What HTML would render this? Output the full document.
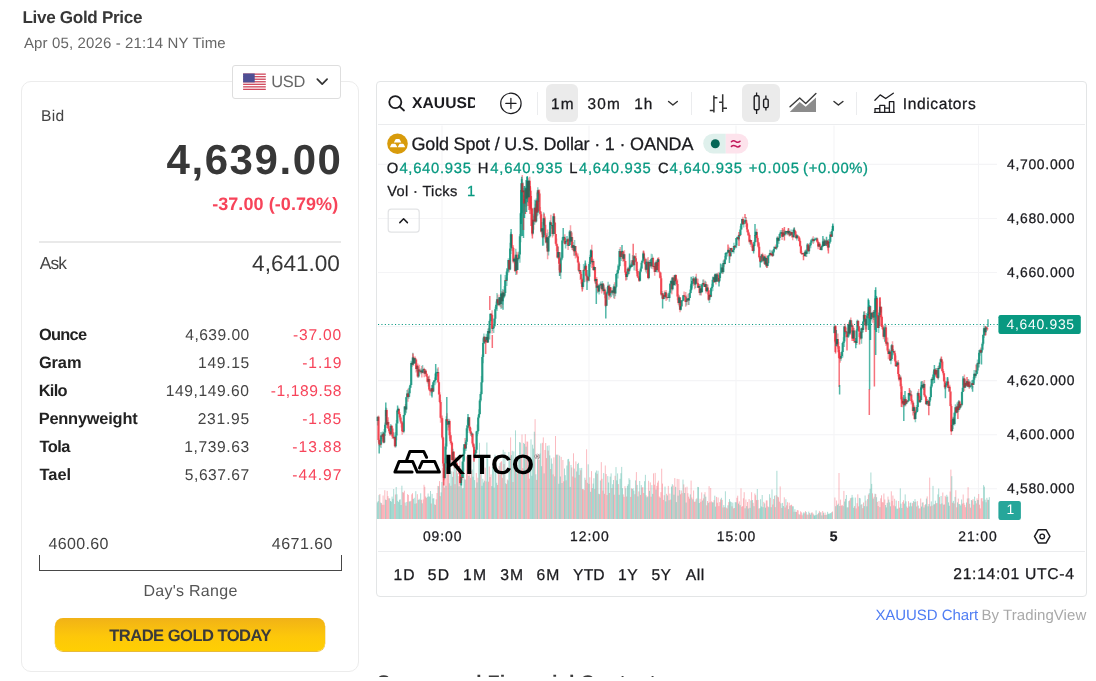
<!DOCTYPE html>
<html lang="en">
<head>
<meta charset="utf-8">
<title>Live Gold Price</title>
<style>
*{box-sizing:border-box;margin:0;padding:0}
html,body{width:1096px;height:681px;overflow:hidden;background:#fff}
body{font-family:"Liberation Sans",sans-serif;color:#333;position:relative}
#page{position:absolute;left:0;top:0;width:1096px;height:681px;overflow:hidden;background:#fff}
.t{position:absolute;white-space:pre;line-height:1;font-weight:400;font-style:normal;text-decoration:none;text-rendering:geometricPrecision}
.abs{position:absolute}
.k{-webkit-text-stroke:0.28px currentColor}
.card{position:absolute;left:21px;top:80.5px;width:338px;height:591px;border:1.5px solid #ececec;border-radius:10px;background:#fff}
.currency{position:absolute;left:231.5px;top:64.5px;width:109.5px;height:34px;border:1.5px solid #dedede;border-radius:3px;background:#fff}
.rule{position:absolute;left:39px;top:241.2px;width:302px;height:1.6px;background:#e9e9e9}
.bracket{position:absolute;left:39px;top:555px;width:302.6px;height:15.7px;border:1.8px solid #474747;border-top:none}
.trade{position:absolute;left:55px;top:617.8px;width:270.4px;height:33.6px;border-radius:8px;background:linear-gradient(#f1b217,#fdc70a 55%,#ffcf02);box-shadow:0 0.6px 0 0.3px rgba(226,170,10,.8)}
.tv{position:absolute;left:376.3px;top:80.6px;width:710.5px;height:516px;border:1.8px solid #e3e5e6;border-radius:4px;background:#fff}
.tvline{position:absolute;background:#ebecee}
.pill{position:absolute;border-radius:6px;background:#ebebeb}
.clip{position:absolute;overflow:hidden}
svg{position:absolute;left:0;top:0;overflow:visible}
</style>
</head>
<body>
<div id="page">

<header>
<span class="t" id="t-title" style="left:22.50px;top:9px;font-size:17.1px;letter-spacing:-0.321px;font-weight:700;color:#373737;">Live Gold Price</span>
<span class="t" id="t-date" style="left:23.90px;top:36px;font-size:15px;letter-spacing:0.133px;color:#666;">Apr 05, 2026 - 21:14 NY Time</span>
</header>

<section class="card" aria-label="Gold price"></section>
<section aria-label="Quote">
  <span class="t" id="t-bid" style="left:40.95px;top:109px;font-size:15.6px;letter-spacing:0.325px;color:#444;">Bid</span>
  <span class="t" id="t-bidv" style="left:166.55px;top:139px;font-size:42px;letter-spacing:1.557px;font-weight:700;color:#373737;">4,639.00</span>
  <span class="t" id="t-chg" style="left:212.15px;top:195px;font-size:18px;letter-spacing:0.071px;font-weight:700;color:#f7445a;">-37.00 (-0.79%)</span>
  <div class="rule"></div>
  <span class="t" id="t-ask" style="left:39.80px;top:255px;font-size:17.4px;letter-spacing:-0.900px;color:#444;">Ask</span>
  <span class="t" id="t-askv" style="left:252.10px;top:253px;font-size:22.6px;letter-spacing:-0.029px;color:#373737;">4,641.00</span>
  <div>
  <span class="t" id="t-rl0" style="left:38.95px;top:327px;font-size:16.4px;letter-spacing:-0.713px;font-weight:700;color:#222;">Ounce</span>
<span class="t" id="t-rl1" style="left:38.95px;top:355px;font-size:16.4px;letter-spacing:-0.100px;font-weight:700;color:#222;">Gram</span>
<span class="t" id="t-rl2" style="left:38.70px;top:383px;font-size:16.4px;letter-spacing:-0.683px;font-weight:700;color:#222;">Kilo</span>
<span class="t" id="t-rl3" style="left:38.70px;top:411px;font-size:16.4px;letter-spacing:-0.210px;font-weight:700;color:#222;">Pennyweight</span>
<span class="t" id="t-rl4" style="left:39.45px;top:439px;font-size:16.4px;letter-spacing:-0.483px;font-weight:700;color:#222;">Tola</span>
<span class="t" id="t-rl5" style="left:39.45px;top:467px;font-size:16.4px;letter-spacing:0.017px;font-weight:700;color:#222;">Tael</span>
  <span class="t" id="t-rv0" style="left:185.35px;top:328px;font-size:15.6px;letter-spacing:0.450px;color:#444;">4,639.00</span>
<span class="t" id="t-rv1" style="left:198.05px;top:356px;font-size:15.6px;letter-spacing:0.690px;color:#444;">149.15</span>
<span class="t" id="t-rv2" style="left:165.75px;top:384px;font-size:15.6px;letter-spacing:0.583px;color:#444;">149,149.60</span>
<span class="t" id="t-rv3" style="left:197.65px;top:412px;font-size:15.6px;letter-spacing:0.770px;color:#444;">231.95</span>
<span class="t" id="t-rv4" style="left:184.35px;top:440px;font-size:15.6px;letter-spacing:0.593px;color:#444;">1,739.63</span>
<span class="t" id="t-rv5" style="left:184.85px;top:468px;font-size:15.6px;letter-spacing:0.521px;color:#444;">5,637.67</span>
  <span class="t" id="t-rc0" style="left:293.05px;top:328px;font-size:15.6px;letter-spacing:0.780px;color:#f7445a;">-37.00</span>
<span class="t" id="t-rc1" style="left:302.15px;top:356px;font-size:15.6px;letter-spacing:0.950px;color:#f7445a;">-1.19</span>
<span class="t" id="t-rc2" style="left:270.65px;top:384px;font-size:15.6px;letter-spacing:0.600px;color:#f7445a;">-1,189.58</span>
<span class="t" id="t-rc3" style="left:302.15px;top:412px;font-size:15.6px;letter-spacing:0.888px;color:#f7445a;">-1.85</span>
<span class="t" id="t-rc4" style="left:292.35px;top:440px;font-size:15.6px;letter-spacing:0.970px;color:#f7445a;">-13.88</span>
<span class="t" id="t-rc5" style="left:292.35px;top:468px;font-size:15.6px;letter-spacing:0.970px;color:#f7445a;">-44.97</span>
  </div>
  <span class="t" id="t-lo" style="left:48.55px;top:537px;font-size:16px;letter-spacing:0.350px;color:#444;">4600.60</span>
  <span class="t" id="t-hi" style="left:271.85px;top:537px;font-size:16px;letter-spacing:0.467px;color:#444;">4671.60</span>
  <div class="bracket"></div>
  <span class="t" id="t-dr" style="left:143.45px;top:584px;font-size:16px;letter-spacing:0.275px;color:#555;">Day&#x27;s Range</span>
  <a class="trade"></a>
  <span class="t" id="t-btn" style="left:109.25px;top:628px;font-size:16.6px;letter-spacing:-0.553px;font-weight:700;color:#3a3a3a;">TRADE GOLD TODAY</span>
</section>

<div class="currency"></div>
<svg width="1096" height="681" viewBox="0 0 1096 681" aria-hidden="true">
  <!-- flag -->
  <g>
    <rect x="243.1" y="73.5" width="22.7" height="16.5" fill="#fff"/>
    <g fill="#d0485c">
      <rect x="243.1" y="73.5" width="22.7" height="1.3"/>
      <rect x="243.1" y="76.04" width="22.7" height="1.3"/>
      <rect x="243.1" y="78.58" width="22.7" height="1.3"/>
      <rect x="243.1" y="81.12" width="22.7" height="1.3"/>
      <rect x="243.1" y="83.66" width="22.7" height="1.3"/>
      <rect x="243.1" y="86.2" width="22.7" height="1.3"/>
      <rect x="243.1" y="88.7" width="22.7" height="1.3"/>
    </g>
    <rect x="243.1" y="73.5" width="11.6" height="8.9" fill="#4f4f94"/>
  </g>
  <path d="M317.3 79.2 L322.2 84.2 L327.1 79.2" fill="none" stroke="#333" stroke-width="1.7" stroke-linecap="round" stroke-linejoin="round"/>
</svg>
<span class="t" id="t-usd" style="left:271.15px;top:74px;font-size:16.4px;letter-spacing:-0.250px;color:#666;">USD</span>

<section class="tv" aria-label="Chart"></section>
<div class="pill" style="left:545.5px;top:84.2px;width:32px;height:37.6px"></div>
<div class="pill" style="left:742px;top:84.2px;width:37.5px;height:37.6px"></div>
<div class="tvline" style="left:378px;top:124px;width:707px;height:1.2px"></div>
<div class="tvline" style="left:378px;top:551.3px;width:707px;height:1.2px"></div>
<div class="tvline" style="left:537.4px;top:91.5px;width:1.1px;height:23px"></div>
<div class="tvline" style="left:691px;top:91.5px;width:1.1px;height:23px"></div>
<div class="tvline" style="left:856.4px;top:91.5px;width:1.1px;height:23px"></div>

<svg width="1096" height="681" viewBox="0 0 1096 681" aria-hidden="true">
  <!-- grid -->
  <g stroke="#f4f4f6" stroke-width="1.1" fill="none">
    <path d="M378 164.4H997M378 218.5H997M378 272.5H997M378 326.5H997M378 380.6H997M378 434.7H997M378 488.7H997"/>
    <path d="M442 125.5V519M589 125.5V519M736 125.5V519M834 125.5V519M978.5 125.5V519"/>
  </g>
  <!-- volume -->
  <path d="M379.9 519V494.0M381.5 519V503.1M382.3 519V504.8M383.1 519V495.5M383.9 519V504.8M384.8 519V490.2M386.4 519V500.0M387.2 519V490.9M388.0 519V496.1M388.8 519V498.3M394.6 519V504.0M395.4 519V494.5M402.7 519V492.2M403.5 519V492.6M404.4 519V490.7M406.0 519V505.7M407.6 519V494.1M408.4 519V495.0M410.9 519V500.8M411.7 519V494.4M412.5 519V493.2M416.6 519V503.3M417.4 519V494.2M419.9 519V499.8M421.5 519V499.8M423.2 519V499.5M424.0 519V484.8M424.8 519V486.8M425.6 519V496.5M426.4 519V498.0M431.3 519V503.5M434.6 519V504.4M436.2 519V499.3M437.0 519V493.0M437.9 519V485.9M439.5 519V481.1M440.3 519V496.2M442.8 519V467.9M443.6 519V478.3M444.4 519V487.6M445.2 519V467.8M446.8 519V467.6M447.7 519V472.0M448.5 519V459.9M450.9 519V485.8M453.4 519V471.7M455.0 519V484.2M456.6 519V462.2M458.3 519V476.0M459.9 519V459.3M462.4 519V488.4M465.6 519V479.6M466.5 519V456.3M467.3 519V469.5M468.1 519V462.2M469.7 519V458.7M470.5 519V477.8M471.4 519V470.9M475.4 519V487.8M476.3 519V473.0M477.9 519V477.7M480.3 519V468.5M485.2 519V467.7M486.1 519V481.4M488.5 519V481.7M489.3 519V466.5M490.1 519V477.0M491.0 519V474.4M494.2 519V487.6M497.5 519V485.0M498.3 519V469.9M499.1 519V465.9M500.8 519V461.9M501.6 519V461.2M502.4 519V477.8M504.0 519V464.0M506.5 519V484.1M507.3 519V479.5M510.6 519V437.4M513.0 519V482.0M514.7 519V468.3M517.1 519V473.6M517.9 519V468.8M521.2 519V456.2M522.0 519V434.5M522.8 519V468.1M525.3 519V434.2M526.9 519V441.5M527.7 519V441.7M528.5 519V469.9M529.4 519V478.7M535.1 519V419.2M536.7 519V479.9M538.3 519V454.1M539.2 519V460.0M542.4 519V442.8M543.3 519V437.4M544.9 519V450.0M545.7 519V443.0M546.5 519V458.1M548.2 519V450.6M550.6 519V469.0M553.1 519V474.4M553.9 519V457.4M555.5 519V436.0M558.0 519V454.7M561.2 519V456.9M562.9 519V460.0M563.7 519V481.3M566.1 519V480.3M569.4 519V461.5M571.8 519V467.5M572.7 519V476.5M573.5 519V453.3M575.1 519V477.7M575.9 519V461.4M579.2 519V474.9M580.8 519V470.3M582.5 519V489.1M583.3 519V488.9M584.1 519V490.1M585.7 519V479.9M586.6 519V449.3M587.4 519V482.8M589.8 519V477.3M591.5 519V471.1M594.7 519V488.9M597.2 519V473.8M599.6 519V494.2M601.3 519V462.1M602.1 519V478.8M602.9 519V490.6M604.5 519V493.8M605.3 519V465.5M606.2 519V474.0M607.0 519V495.1M609.4 519V493.0M611.9 519V488.0M614.3 519V494.7M615.1 519V475.8M618.4 519V484.1M623.3 519V494.4M624.1 519V496.9M625.0 519V486.2M626.6 519V496.5M630.7 519V496.9M631.5 519V488.3M634.8 519V494.2M636.4 519V472.1M638.8 519V491.4M640.5 519V494.9M642.1 519V487.5M642.9 519V487.2M643.7 519V493.0M646.2 519V495.3M648.6 519V480.8M650.3 519V482.4M651.1 519V496.7M653.5 519V473.4M654.4 519V484.7M655.2 519V472.9M656.8 519V485.9M657.6 519V482.6M658.4 519V480.7M659.3 519V496.5M660.9 519V492.1M661.7 519V468.7M662.5 519V483.6M663.4 519V499.9M664.2 519V495.2M666.6 519V493.8M668.3 519V485.9M669.9 519V493.6M670.7 519V499.6M673.2 519V485.5M674.8 519V478.1M677.2 519V478.9M678.9 519V479.1M680.5 519V494.3M681.3 519V490.5M682.1 519V493.2M683.8 519V484.4M685.4 519V487.4M687.0 519V486.7M687.9 519V493.2M688.7 519V496.7M689.5 519V498.7M691.1 519V480.6M691.9 519V497.5M693.6 519V490.5M694.4 519V501.8M695.2 519V501.6M696.8 519V498.3M700.1 519V498.8M700.9 519V501.8M701.7 519V492.4M703.4 519V498.4M705.0 519V492.2M706.7 519V505.3M707.5 519V501.0M709.1 519V486.2M709.9 519V502.2M710.7 519V488.0M711.6 519V501.4M714.0 519V500.2M716.5 519V496.9M717.3 519V502.7M718.1 519V497.5M718.9 519V506.1M719.7 519V502.1M720.5 519V499.4M722.2 519V499.9M723.0 519V507.5M724.6 519V507.2M726.3 519V507.6M727.1 519V508.4M728.7 519V502.1M732.0 519V506.3M733.6 519V508.4M734.4 519V508.0M736.9 519V497.8M737.7 519V495.7M739.3 519V501.4M741.0 519V488.3M741.8 519V506.8M742.6 519V506.1M743.4 519V498.3M744.2 519V492.2M745.9 519V499.5M747.5 519V502.0M749.1 519V499.1M751.6 519V492.2M753.2 519V502.8M754.9 519V493.5M755.7 519V495.2M756.5 519V500.1M758.1 519V499.9M758.9 519V508.5M763.8 519V501.9M766.3 519V500.4M767.1 519V500.5M767.9 519V506.4M770.4 519V497.8M772.8 519V504.5M773.6 519V499.0M775.3 519V507.1M776.1 519V495.2M777.7 519V496.6M778.5 519V497.3M779.4 519V501.7M780.2 519V486.4M781.8 519V507.9M784.3 519V497.3M785.1 519V507.5M786.7 519V505.4M787.5 519V502.2M789.2 519V502.7M790.8 519V505.0M791.6 519V504.7M794.1 519V511.8M796.5 519V511.9M797.3 519V510.0M798.2 519V510.4M799.8 519V514.7M800.6 519V511.3M801.4 519V512.4M802.2 519V515.3M804.7 519V513.3M805.5 519V511.1M807.1 519V514.6M808.0 519V514.7M809.6 519V513.1M812.0 519V512.1M812.9 519V513.3M817.8 519V514.0M819.4 519V510.9M821.0 519V512.3M822.7 519V511.0M824.3 519V514.9M825.1 519V512.6M826.8 519V514.6M832.5 519V511.5M834.9 519V497.5M836.6 519V500.5M839.0 519V473.0M840.6 519V499.6M841.5 519V505.6M842.3 519V504.9M843.9 519V490.9M847.2 519V507.4M849.6 519V500.4M850.4 519V498.2M854.5 519V506.1M856.2 519V508.4M857.0 519V503.2M857.8 519V494.3M858.6 519V506.4M861.1 519V504.8M862.7 519V508.2M863.5 519V502.5M866.0 519V500.6M868.4 519V494.6M872.5 519V493.4M874.1 519V496.8M875.8 519V494.1M877.4 519V501.9M878.2 519V506.0M879.0 519V501.0M880.7 519V498.3M881.5 519V495.3M882.3 519V502.1M883.1 519V502.4M883.9 519V493.5M884.8 519V499.5M888.0 519V496.6M891.3 519V491.3M892.1 519V500.9M892.9 519V495.5M893.7 519V505.5M894.6 519V498.8M898.6 519V501.0M899.5 519V507.7M902.7 519V502.1M903.5 519V500.3M906.8 519V506.5M907.6 519V507.9M908.5 519V501.2M912.5 519V503.1M914.2 519V502.0M916.6 519V506.5M917.4 519V501.1M919.1 519V508.4M919.9 519V508.4M920.7 519V498.5M923.2 519V502.3M924.8 519V505.2M927.2 519V496.4M929.7 519V477.6M930.5 519V506.3M932.1 519V505.7M933.8 519V504.5M936.2 519V503.2M937.0 519V503.1M939.5 519V497.1M940.3 519V504.2M942.8 519V492.5M943.6 519V504.7M945.2 519V495.8M946.0 519V497.1M950.1 519V491.5M950.9 519V469.6M952.6 519V502.7M954.2 519V503.4M955.8 519V490.2M956.7 519V507.3M958.3 519V498.6M962.4 519V503.6M963.2 519V494.5M964.0 519V502.9M964.8 519V504.8M965.6 519V507.2M967.3 519V498.5M968.1 519V487.2M969.7 519V503.8M970.5 519V507.7M972.2 519V500.5M973.0 519V499.1M973.8 519V504.7M976.3 519V503.4M977.1 519V498.3M978.7 519V494.0M979.5 519V504.7M980.3 519V508.4M981.2 519V498.4M982.0 519V498.0M982.8 519V501.3M987.7 519V499.8" stroke="#f23645" stroke-width="0.9" stroke-opacity="0.38" fill="none"/>
<path d="M377.4 519V502.4M378.2 519V501.1M379.0 519V495.1M380.7 519V502.6M385.6 519V499.6M389.7 519V498.4M390.5 519V501.0M391.3 519V501.7M392.1 519V496.6M392.9 519V498.8M393.7 519V489.0M396.2 519V487.0M397.0 519V494.3M397.8 519V500.9M398.6 519V502.1M399.5 519V499.7M400.3 519V499.4M401.1 519V505.0M401.9 519V485.7M405.2 519V502.5M406.8 519V501.9M409.3 519V501.4M410.1 519V501.5M413.3 519V499.0M414.2 519V497.8M415.0 519V503.7M415.8 519V491.2M418.3 519V500.0M419.1 519V498.8M420.7 519V493.3M422.3 519V503.3M427.2 519V496.9M428.1 519V493.5M428.9 519V496.4M429.7 519V496.7M430.5 519V491.0M432.1 519V493.9M433.0 519V498.5M433.8 519V498.2M435.4 519V504.9M438.7 519V486.2M441.1 519V492.4M441.9 519V482.0M446.0 519V485.8M449.3 519V483.3M450.1 519V470.7M451.7 519V471.4M452.6 519V476.9M454.2 519V458.3M455.8 519V462.9M457.5 519V473.3M459.1 519V486.3M460.7 519V483.1M461.6 519V469.6M463.2 519V487.9M464.0 519V454.3M464.8 519V479.3M468.9 519V475.9M472.2 519V469.5M473.0 519V476.7M473.8 519V444.8M474.6 519V480.1M477.1 519V482.4M478.7 519V456.4M479.5 519V442.8M481.2 519V461.9M482.0 519V485.8M482.8 519V478.8M483.6 519V482.5M484.4 519V480.7M486.9 519V442.5M487.7 519V458.5M491.8 519V486.1M492.6 519V466.9M493.4 519V467.9M495.0 519V454.7M495.9 519V463.6M496.7 519V482.8M500.0 519V463.1M503.2 519V449.8M504.9 519V451.9M505.7 519V483.3M508.1 519V480.4M508.9 519V452.0M509.8 519V456.8M511.4 519V455.1M512.2 519V450.8M513.8 519V451.4M515.5 519V430.4M516.3 519V472.3M518.7 519V456.3M519.6 519V442.1M520.4 519V442.6M523.6 519V442.9M524.5 519V443.9M526.1 519V446.7M530.2 519V462.5M531.0 519V439.3M531.8 519V475.8M532.6 519V444.7M533.4 519V448.6M534.3 519V431.7M535.9 519V474.3M537.5 519V459.2M540.0 519V453.5M540.8 519V443.4M541.6 519V466.2M544.1 519V473.4M547.3 519V445.8M549.0 519V445.4M549.8 519V455.4M551.4 519V458.4M552.2 519V463.7M554.7 519V476.4M556.3 519V454.7M557.1 519V454.7M558.8 519V483.8M559.6 519V455.6M560.4 519V476.5M562.0 519V483.0M564.5 519V468.5M565.3 519V475.2M566.9 519V465.5M567.8 519V459.3M568.6 519V458.9M570.2 519V486.9M571.0 519V465.0M574.3 519V468.6M576.7 519V471.5M577.6 519V464.0M578.4 519V462.8M580.0 519V468.1M581.7 519V467.9M584.9 519V477.7M588.2 519V464.3M589.0 519V483.9M590.6 519V491.8M592.3 519V488.1M593.1 519V483.6M593.9 519V478.2M595.5 519V472.5M596.4 519V470.5M598.0 519V470.7M598.8 519V493.8M600.4 519V480.5M603.7 519V473.1M607.8 519V476.1M608.6 519V482.5M610.2 519V476.6M611.1 519V473.4M612.7 519V484.2M613.5 519V480.0M616.0 519V467.1M616.8 519V480.3M617.6 519V473.4M619.2 519V494.8M620.0 519V478.8M620.9 519V473.2M621.7 519V466.9M622.5 519V488.2M625.8 519V488.3M627.4 519V485.9M628.2 519V484.2M629.0 519V478.2M629.9 519V479.8M632.3 519V489.0M633.1 519V488.2M633.9 519V490.6M635.6 519V480.4M637.2 519V484.9M638.0 519V496.4M639.7 519V481.0M641.3 519V485.1M644.6 519V481.2M645.4 519V474.8M647.0 519V497.3M647.8 519V496.4M649.5 519V490.9M651.9 519V485.1M652.7 519V493.9M656.0 519V489.6M660.1 519V497.7M665.0 519V486.6M665.8 519V501.4M667.4 519V495.4M669.1 519V500.2M671.5 519V486.6M672.3 519V484.2M674.0 519V494.7M675.6 519V486.8M676.4 519V502.1M678.1 519V495.7M679.7 519V490.1M683.0 519V479.6M684.6 519V493.0M686.2 519V502.5M690.3 519V494.4M692.8 519V499.3M696.0 519V499.3M697.7 519V486.9M698.5 519V487.1M699.3 519V503.0M702.6 519V500.5M704.2 519V494.4M705.8 519V496.7M708.3 519V502.8M712.4 519V502.3M713.2 519V502.4M714.8 519V495.7M715.6 519V506.6M721.4 519V497.8M723.8 519V505.1M725.4 519V491.3M727.9 519V505.3M729.5 519V499.1M730.3 519V501.4M731.2 519V502.1M732.8 519V502.6M735.2 519V502.2M736.1 519V502.3M738.5 519V503.6M740.1 519V505.2M745.1 519V508.3M746.7 519V506.1M748.3 519V508.5M750.0 519V507.9M750.8 519V500.5M752.4 519V500.0M754.0 519V506.2M757.3 519V489.0M759.8 519V508.2M760.6 519V499.2M761.4 519V506.5M762.2 519V495.0M763.0 519V507.2M764.7 519V503.4M765.5 519V507.7M768.7 519V507.2M769.6 519V494.2M771.2 519V507.2M772.0 519V489.4M774.5 519V495.7M776.9 519V470.8M781.0 519V503.3M782.6 519V502.9M783.4 519V506.0M785.9 519V499.2M788.4 519V509.1M790.0 519V505.9M792.4 519V506.3M793.3 519V506.3M794.9 519V509.2M795.7 519V511.9M799.0 519V514.2M803.1 519V513.4M803.9 519V512.1M806.3 519V512.1M808.8 519V511.6M810.4 519V514.7M811.2 519V513.1M813.7 519V514.5M814.5 519V515.6M815.3 519V515.2M816.1 519V510.4M816.9 519V514.9M818.6 519V512.8M820.2 519V512.3M821.8 519V515.4M823.5 519V512.7M825.9 519V515.0M827.6 519V511.8M828.4 519V513.7M829.2 519V514.1M830.0 519V513.1M830.8 519V513.2M831.7 519V512.2M835.7 519V506.2M837.4 519V505.1M838.2 519V503.7M839.8 519V506.0M843.1 519V506.1M844.7 519V501.5M845.5 519V498.9M846.4 519V495.0M848.0 519V507.3M848.8 519V501.1M851.3 519V497.7M852.1 519V494.9M852.9 519V497.5M853.7 519V507.8M855.3 519V497.6M859.4 519V497.9M860.2 519V498.3M861.9 519V504.1M864.3 519V506.1M865.1 519V495.5M866.8 519V506.3M867.6 519V499.1M869.2 519V493.2M870.1 519V488.8M870.9 519V472.5M871.7 519V483.9M873.3 519V498.6M875.0 519V493.7M876.6 519V497.2M879.9 519V507.1M885.6 519V505.0M886.4 519V507.4M887.2 519V502.8M888.8 519V499.6M889.7 519V502.4M890.5 519V506.3M895.4 519V506.3M896.2 519V500.5M897.0 519V508.7M897.8 519V508.7M900.3 519V488.4M901.1 519V503.7M901.9 519V508.0M904.4 519V503.6M905.2 519V494.4M906.0 519V501.4M909.3 519V506.4M910.1 519V502.8M910.9 519V502.6M911.7 519V506.3M913.4 519V501.0M915.0 519V499.1M915.8 519V501.7M918.3 519V505.6M921.5 519V506.5M922.3 519V502.6M924.0 519V507.5M925.6 519V504.2M926.4 519V498.6M928.1 519V506.3M928.9 519V504.0M931.3 519V501.4M933.0 519V485.9M934.6 519V504.2M935.4 519V500.7M937.9 519V494.4M938.7 519V488.5M941.1 519V496.0M941.9 519V503.5M944.4 519V504.5M946.8 519V494.8M947.7 519V496.6M948.5 519V502.4M949.3 519V505.8M951.8 519V476.2M953.4 519V500.9M955.0 519V496.9M957.5 519V502.4M959.1 519V504.0M959.9 519V504.2M960.7 519V505.5M961.6 519V499.5M966.5 519V502.5M968.9 519V498.3M971.4 519V500.0M974.6 519V496.7M975.4 519V500.9M977.9 519V500.0M983.6 519V485.1M984.4 519V486.7M985.2 519V499.7M986.1 519V502.3M986.9 519V497.8M988.5 519V499.9M989.3 519V497.2" stroke="#089981" stroke-width="0.9" stroke-opacity="0.38" fill="none"/>

  <!-- logo -->
  <g fill="none" stroke="#000" stroke-width="3" stroke-linejoin="round" stroke-linecap="round">
    <path d="M406.7 460 L409.9 451.4 H423.7 L426.6 457.3"/>
    <path d="M412.1 472.1 H394.9 L399.1 461.5 H412.7 L417.3 472.1 H439.4 L434.7 461.5 H422.3 L419.5 467.9"/>
  </g>
  <!-- last price line -->
  <path d="M378 324.5H998" stroke="#089981" stroke-width="1.1" stroke-dasharray="1.1 2.3" fill="none"/>
  <!-- candles -->
  <path d="M378.5 415.5V442.4M379.3 438.4V446.0M380.2 444.2V446.7M381.8 435.5V438.9M383.4 432.0V443.2M386.7 408.2V428.0M388.3 417.3V429.1M389.1 426.2V433.0M390.0 427.8V436.0M391.6 425.2V430.3M392.4 426.2V438.9M393.2 431.9V438.9M394.9 437.0V447.4M398.9 407.7V414.5M399.8 412.1V419.4M400.6 415.8V423.9M401.4 420.9V427.5M402.2 421.6V434.7M403.0 430.6V432.1M405.5 404.1V412.0M407.9 388.7V401.8M412.0 362.0V367.1M413.6 356.3V365.8M415.3 356.4V360.6M416.1 359.4V372.5M417.7 363.5V377.7M419.4 364.8V370.7M420.2 370.1V373.0M421.8 366.0V377.5M424.3 367.8V377.2M425.9 369.6V375.9M426.7 372.9V376.7M427.5 376.1V383.6M429.2 375.4V390.7M430.0 387.7V395.6M430.8 390.2V393.0M432.4 384.7V393.3M438.2 367.2V382.9M439.0 381.7V394.6M439.8 392.2V403.2M440.6 400.1V422.7M441.4 415.8V422.1M442.2 415.6V439.4M443.1 436.7V466.2M443.9 457.7V480.2M447.1 413.3V421.2M448.0 421.2V430.6M449.6 419.4V438.4M450.4 432.3V444.3M451.2 435.2V445.2M452.0 442.1V464.5M453.7 450.9V463.1M454.5 460.0V468.5M456.1 457.6V468.1M456.9 462.8V469.4M458.6 465.5V474.2M460.2 468.2V484.4M461.9 477.1V480.3M465.1 438.1V449.3M469.2 417.2V429.8M470.0 426.7V432.8M470.8 428.1V436.0M472.5 433.1V445.1M473.3 442.8V448.2M474.1 444.3V460.2M484.7 336.8V344.0M487.2 335.4V343.1M488.8 327.7V339.6M491.3 313.0V315.1M492.1 310.3V333.5M497.8 294.5V306.2M498.6 298.2V305.7M500.3 294.8V307.3M501.9 290.9V308.0M503.5 289.9V298.2M506.0 277.6V280.7M509.2 260.1V272.2M511.7 234.2V250.7M512.5 246.8V250.9M513.3 245.0V263.3M515.0 256.7V272.0M516.6 251.8V272.9M518.2 252.2V259.6M522.3 175.1V196.4M523.9 190.6V211.7M526.4 180.1V206.6M528.0 177.8V200.2M529.7 176.8V191.7M530.5 187.6V210.2M531.3 202.1V210.7M532.1 207.7V235.5M533.7 215.8V229.7M535.4 203.7V222.6M537.0 192.4V216.5M538.6 189.2V196.5M539.5 189.5V212.9M540.3 206.9V218.2M541.1 212.1V232.5M542.7 228.2V238.4M544.4 218.3V224.7M545.2 216.6V239.2M546.0 235.2V243.4M547.6 229.4V259.3M550.9 214.8V225.0M552.5 225.0V237.5M554.2 213.6V226.4M555.0 222.0V233.9M555.8 233.9V244.6M556.6 238.6V251.1M557.4 244.3V258.2M559.1 252.0V270.2M559.9 257.2V275.8M564.8 234.3V244.5M568.1 237.7V250.0M570.5 225.3V242.3M572.1 232.5V250.1M573.8 245.2V255.8M575.4 246.0V258.5M576.2 250.9V256.4M577.0 254.1V258.1M577.9 253.6V262.6M578.7 261.1V272.1M580.3 270.0V279.9M581.1 271.7V283.7M582.0 277.7V289.2M584.4 266.7V270.6M586.0 263.5V281.7M586.9 273.6V279.7M587.7 276.0V282.6M591.8 244.7V268.0M593.4 258.8V270.8M595.0 266.9V283.4M596.7 277.0V287.7M598.3 284.3V292.3M601.6 283.7V293.4M603.2 283.0V292.3M604.8 287.4V298.2M605.6 291.3V307.2M608.9 284.5V299.7M610.5 287.3V298.3M613.0 288.3V295.4M614.6 282.3V299.0M620.3 247.1V259.1M622.8 250.7V261.4M624.4 250.3V266.2M625.3 260.9V275.0M626.1 271.0V277.0M628.5 266.8V275.2M631.0 260.3V267.4M633.4 256.3V265.2M635.1 256.3V258.2M635.9 253.0V262.5M636.7 261.8V273.5M637.5 269.0V277.5M638.3 271.0V278.3M639.1 272.5V282.0M644.0 251.6V259.4M644.9 257.4V264.3M645.7 259.1V271.7M647.3 258.0V267.3M648.1 257.1V279.2M650.6 259.4V267.5M653.0 256.7V269.2M654.7 263.5V275.7M656.3 260.1V270.7M658.7 257.3V271.8M659.6 271.2V277.4M660.4 272.4V278.2M661.2 275.7V295.8M662.8 292.9V299.0M664.5 290.4V296.7M666.1 290.1V301.1M666.9 296.8V300.0M668.6 294.7V298.0M671.8 277.4V294.2M673.5 275.2V286.1M675.9 274.5V284.2M676.7 278.2V284.7M677.5 279.3V300.2M678.4 294.1V304.7M680.0 297.0V312.2M684.1 291.6V295.8M684.9 293.4V301.6M685.7 292.1V306.8M688.2 293.8V305.1M693.9 277.2V286.0M694.7 281.3V289.2M696.3 273.8V282.8M697.1 281.6V283.9M698.0 278.7V287.7M699.6 284.3V295.3M701.2 287.9V295.6M703.7 279.6V286.0M704.5 281.5V286.9M706.1 281.8V293.4M707.8 284.4V294.6M708.6 290.3V300.9M710.2 293.9V297.2M714.3 275.2V282.9M715.9 273.8V284.6M717.6 273.0V276.2M718.4 272.3V281.6M722.5 264.6V273.9M724.1 259.5V266.8M729.0 246.7V253.3M729.8 252.0V259.6M731.5 247.7V251.2M732.3 249.9V251.9M734.7 245.2V248.6M738.0 237.2V239.2M739.6 234.7V236.1M742.9 216.7V224.6M746.2 217.0V226.9M747.0 222.4V232.0M747.8 229.6V235.7M748.6 231.6V235.9M749.4 233.9V243.4M751.1 240.0V247.0M751.9 242.1V247.7M752.7 242.8V250.9M756.8 228.7V237.9M757.6 236.3V245.4M758.4 241.8V248.3M759.2 243.5V258.4M760.1 256.0V261.8M762.5 252.8V260.9M763.3 255.3V262.3M765.0 254.2V264.4M766.6 255.5V266.9M770.7 252.6V255.7M772.3 250.6V257.0M775.6 244.6V248.5M778.0 236.5V242.4M782.1 231.9V239.9M783.7 229.3V235.6M786.2 231.3V233.4M787.8 229.7V234.7M789.5 230.6V236.8M791.9 231.9V237.5M792.7 234.8V240.2M794.4 227.5V231.4M795.2 230.3V237.8M796.0 231.7V238.2M797.6 235.4V238.8M798.5 236.5V237.7M799.3 236.6V241.8M800.1 239.5V246.6M800.9 245.5V253.8M801.7 250.8V254.9M803.4 252.6V256.4M804.2 253.0V256.6M805.8 249.4V257.1M808.3 243.5V251.5M813.2 236.2V244.1M817.2 237.4V242.9M818.1 240.4V249.3M819.7 242.3V247.1M820.5 246.0V249.9M823.8 238.5V246.0M825.4 240.4V244.9M826.2 241.4V246.0M827.9 239.6V250.6M831.1 231.7V236.7M835.3 325.8V343.0M836.1 341.6V345.6M837.8 333.5V348.8M838.6 341.9V357.7M839.4 346.7V358.3M840.2 354.2V362.7M845.1 323.7V337.6M846.8 327.4V336.7M849.2 321.8V334.2M850.8 317.5V332.1M852.5 323.6V338.5M854.1 327.7V343.0M855.7 340.4V343.6M858.2 320.8V328.2M859.0 326.2V336.9M859.8 328.8V333.3M860.6 331.3V339.7M862.3 327.5V332.7M864.7 311.1V324.3M865.5 314.9V329.6M869.6 306.2V320.4M870.4 316.4V321.6M872.1 312.8V318.1M872.9 311.5V322.7M877.0 296.9V318.6M877.8 316.0V327.9M881.1 306.7V318.3M881.9 315.7V326.9M882.7 325.0V329.9M883.5 325.3V339.3M886.0 324.9V346.0M887.6 337.4V351.9M888.4 349.3V359.2M890.1 350.1V361.0M892.5 341.3V351.1M894.1 351.3V353.2M895.0 350.6V362.0M895.8 355.6V366.3M898.2 359.9V376.4M899.0 373.9V381.3M900.7 375.7V388.8M901.5 383.8V400.5M902.3 396.8V407.2M903.9 398.7V406.4M905.6 396.7V406.2M907.2 400.2V402.6M909.7 389.6V394.9M911.3 391.1V404.4M912.1 399.2V403.6M912.9 400.2V415.4M914.6 405.6V420.0M918.7 388.9V398.1M919.5 394.4V403.0M922.7 380.9V388.4M924.4 379.9V397.3M925.2 394.2V397.0M926.0 396.5V404.2M927.6 399.3V403.0M928.5 399.9V405.7M932.5 376.9V380.8M935.0 368.9V374.4M936.6 368.1V378.0M937.4 375.5V378.3M939.1 365.1V368.2M941.5 359.2V364.5M942.3 359.5V372.0M943.2 369.0V375.2M944.0 373.2V381.7M944.8 377.2V389.3M948.1 378.5V388.2M949.7 384.7V391.5M950.5 391.5V406.4M951.3 403.9V435.0M953.8 417.2V424.9M956.2 405.7V413.4M957.9 406.0V410.8M959.5 400.4V409.8M961.1 403.2V406.8M964.4 374.6V391.3M966.0 382.2V385.9M967.7 379.2V387.0M969.3 380.4V389.0M972.6 383.2V387.7M975.0 373.7V377.7M978.3 361.9V367.5M980.7 347.4V353.4M984.8 327.9V336.0M986.5 327.1V330.2M987.3 326.5V330.7" stroke="#f23645" stroke-width="1.5" stroke-opacity="0.45" fill="none"/>
<path d="M377.7 416.7V425.6M381.0 432.0V447.9M382.6 431.4V441.2M384.2 428.9V443.2M385.1 422.5V435.9M385.9 407.6V424.8M387.5 420.2V425.7M390.8 424.0V434.8M394.0 432.4V439.5M395.7 432.0V447.4M396.5 419.9V440.2M397.3 409.3V423.4M398.1 407.7V411.1M403.8 415.1V433.3M404.7 405.9V416.3M406.3 396.7V413.2M407.1 389.9V397.3M408.7 391.4V398.8M409.6 385.9V396.7M410.4 383.4V388.3M411.2 360.8V385.1M412.8 352.7V365.3M414.5 358.2V363.4M416.9 365.2V371.3M418.6 367.2V377.7M421.0 368.4V374.2M422.6 365.1V373.3M423.5 368.4V370.5M425.1 369.6V374.2M428.4 376.6V386.6M431.6 388.3V396.0M433.3 381.6V392.1M434.1 380.4V382.9M434.9 377.5V385.3M435.7 371.8V383.5M436.5 372.8V373.6M437.3 368.4V376.4M444.7 462.7V478.8M445.5 443.5V467.9M446.3 416.3V449.5M448.8 418.7V427.6M452.9 448.7V460.7M455.3 457.6V467.8M457.8 466.3V470.1M459.4 465.9V471.9M461.0 474.0V485.2M462.7 461.4V478.0M463.5 447.6V462.1M464.3 444.3V460.0M465.9 440.1V450.9M466.8 425.1V444.8M467.6 419.6V432.9M468.4 417.2V427.3M471.7 432.1V437.0M474.9 452.1V458.6M475.7 449.8V458.3M476.6 430.7V453.0M477.4 424.6V436.2M478.2 415.2V434.0M479.0 409.2V418.3M479.8 399.1V414.7M480.6 391.7V402.2M481.5 375.9V394.8M482.3 354.6V383.0M483.1 338.3V363.3M483.9 333.6V343.8M485.5 338.6V343.3M486.4 333.8V341.7M488.0 328.5V342.4M489.6 319.4V339.6M490.4 313.8V322.6M492.9 325.1V331.1M493.7 324.7V333.1M494.5 317.9V326.3M495.3 306.8V323.5M496.2 301.4V310.0M497.0 292.9V311.1M499.4 297.2V305.7M501.1 293.4V309.0M502.7 289.1V304.7M504.3 286.1V298.2M505.2 275.0V295.6M506.8 268.0V286.1M507.6 269.2V275.2M508.4 258.2V272.9M510.1 242.7V270.3M510.9 232.3V254.1M514.1 257.7V261.4M515.8 248.8V275.0M517.4 257.2V269.9M519.0 251.6V260.6M519.9 234.1V262.7M520.7 212.3V242.2M521.5 183.2V216.3M523.1 182.5V192.3M524.8 197.0V206.7M525.6 187.2V207.1M527.2 176.8V202.6M528.8 179.8V203.2M532.9 213.8V234.4M534.6 199.7V224.7M536.2 198.4V222.6M537.8 187.2V215.5M541.9 222.1V234.6M543.6 212.2V245.4M546.8 233.2V248.3M548.5 237.6V255.4M549.3 232.1V237.6M550.1 220.4V236.8M551.7 223.1V228.7M553.4 213.6V235.7M558.3 247.0V259.1M560.7 252.2V279.0M561.5 255.4V259.5M562.3 237.2V260.2M563.2 236.5V242.8M564.0 236.5V239.9M565.6 238.5V248.4M566.4 236.2V241.1M567.2 236.1V245.9M568.9 242.8V246.0M569.7 230.0V245.1M571.3 230.9V247.7M573.0 242.1V250.0M574.6 239.9V255.8M579.5 264.0V273.6M582.8 281.6V289.2M583.6 264.0V286.8M585.2 262.8V269.6M588.5 276.8V281.1M589.3 261.8V281.2M590.1 254.7V266.8M590.9 249.7V261.2M592.6 259.5V265.1M594.2 266.2V270.8M595.8 278.4V284.1M597.5 283.6V293.3M599.1 284.8V294.4M599.9 283.5V288.3M600.7 281.6V287.7M602.4 280.9V290.7M604.0 285.3V295.1M606.5 290.4V305.8M607.3 286.9V294.5M608.1 281.7V293.8M609.7 284.6V296.9M611.4 290.4V296.9M612.2 290.4V294.5M613.8 284.3V298.2M615.4 286.8V296.3M616.3 273.2V288.2M617.1 270.5V274.5M617.9 264.5V278.6M618.7 265.3V271.2M619.5 249.1V267.3M621.2 251.2V261.1M622.0 250.7V254.5M623.6 252.3V261.4M626.9 272.0V279.7M627.7 267.4V276.6M629.3 268.2V273.9M630.2 263.6V268.8M631.8 262.3V266.7M632.6 254.9V266.3M634.2 255.0V270.4M640.0 270.2V281.4M640.8 266.5V272.2M641.6 260.7V269.1M642.4 259.5V262.7M643.2 251.6V261.4M646.5 259.2V273.6M648.9 260.7V279.2M649.8 260.1V262.6M651.4 253.7V268.8M652.2 254.2V258.8M653.8 266.0V267.3M655.5 261.4V271.9M657.1 260.9V272.6M657.9 258.5V262.8M662.0 291.1V298.3M663.7 294.7V299.6M665.3 292.0V298.6M667.7 293.5V297.5M669.4 291.0V301.7M670.2 283.2V293.5M671.0 279.8V284.4M672.6 277.6V290.6M674.3 280.4V284.9M675.1 274.5V285.9M679.2 295.2V306.5M680.8 301.5V310.4M681.6 300.0V306.9M682.4 300.5V300.6M683.3 295.2V301.1M686.5 295.5V305.6M687.3 298.6V300.9M689.0 298.1V305.1M689.8 292.4V298.1M690.6 286.1V293.6M691.4 283.1V290.8M692.2 281.0V287.8M693.1 276.0V283.4M695.5 276.7V288.0M698.8 284.3V287.7M700.4 283.9V295.3M702.0 283.8V292.2M702.9 279.6V286.6M705.3 280.7V286.9M707.0 284.4V291.8M709.4 293.4V303.0M711.0 287.8V297.2M711.9 283.7V291.4M712.7 276.6V290.9M713.5 276.7V282.7M715.1 273.3V282.4M716.8 273.0V282.1M719.2 278.0V283.0M720.0 271.7V280.8M720.8 272.3V273.5M721.7 264.6V273.7M723.3 260.4V273.4M724.9 256.1V264.6M725.7 252.1V260.5M726.6 253.0V254.3M727.4 251.4V256.5M728.2 248.8V252.3M730.6 248.1V256.2M733.1 248.8V253.6M733.9 242.7V253.4M735.5 245.1V248.6M736.4 237.9V248.0M737.2 236.4V239.2M738.8 234.4V240.8M740.4 226.0V236.3M741.3 223.2V229.8M742.1 218.7V224.9M743.7 219.1V227.5M744.5 219.4V223.6M745.4 217.0V223.9M750.3 239.2V245.0M753.5 245.3V251.7M754.3 240.4V246.5M755.2 231.7V242.4M756.0 230.7V238.2M760.9 260.2V262.6M761.7 254.0V262.6M764.1 255.7V263.9M765.8 257.1V266.8M767.4 263.3V267.7M768.2 255.4V265.7M769.0 254.6V256.6M769.9 249.8V256.6M771.5 250.6V255.7M773.1 250.1V256.6M773.9 246.5V252.9M774.8 246.2V249.3M776.4 245.9V250.1M777.2 236.5V247.9M778.8 238.1V244.0M779.7 233.7V240.5M780.5 230.2V235.7M781.3 229.9V233.7M782.9 230.1V236.7M784.6 233.4V235.6M785.4 230.6V234.1M787.0 230.9V235.3M788.7 228.6V234.7M790.3 232.9V235.6M791.1 229.6V234.4M793.6 228.6V237.2M796.8 233.9V240.5M802.5 253.0V254.5M805.0 250.2V256.6M806.6 249.6V257.1M807.4 243.1V253.4M809.1 245.8V254.1M809.9 243.0V246.2M810.7 239.5V248.2M811.5 240.6V243.3M812.3 237.7V241.0M814.0 238.7V242.6M814.8 237.5V240.6M815.6 238.4V239.8M816.4 237.4V241.0M818.9 242.3V247.1M821.3 245.1V250.6M822.1 244.6V250.3M823.0 241.5V247.1M824.6 238.9V246.0M827.1 240.0V245.4M828.7 239.1V247.6M829.5 241.3V243.1M830.3 231.7V243.8M832.0 229.0V236.7M832.8 224.6V231.5M834.5 324.4V333.7M837.0 339.0V347.0M841.0 355.9V360.7M841.9 350.7V358.0M842.7 342.2V357.5M843.5 337.3V342.9M844.3 325.7V346.9M845.9 331.5V334.2M847.6 334.3V336.7M848.4 323.9V337.7M850.0 319.6V334.9M851.7 320.2V327.3M853.3 327.7V338.5M854.9 341.0V342.4M856.6 329.1V344.9M857.4 319.4V331.2M861.5 327.5V343.8M863.1 321.5V332.6M863.9 314.5V324.2M866.4 313.1V329.6M867.2 314.3V323.7M868.0 312.1V315.6M868.8 301.5V318.0M871.3 312.8V320.3M873.7 310.1V320.1M874.5 312.0V313.4M875.4 295.6V317.3M876.2 298.2V298.9M878.6 315.0V333.1M879.4 309.8V316.9M880.3 301.5V312.4M884.3 325.9V337.3M885.2 323.6V329.8M886.8 341.3V344.7M889.2 348.8V354.0M890.9 355.1V364.2M891.7 343.9V360.9M893.3 349.1V355.2M896.6 363.2V366.9M897.4 361.2V365.1M899.9 375.1V380.0M903.1 397.4V404.7M904.8 398.5V406.3M906.4 399.6V404.4M908.0 400.2V402.6M908.8 393.0V401.4M910.5 389.9V396.6M913.7 402.8V413.1M915.4 409.6V422.2M916.2 411.9V414.5M917.0 404.9V411.9M917.8 391.5V411.3M920.3 398.9V403.0M921.1 386.6V400.0M921.9 380.9V389.1M923.6 382.5V389.9M926.8 399.3V405.2M929.3 397.3V405.7M930.1 396.9V401.9M930.9 384.6V397.4M931.7 377.4V388.1M933.4 371.4V383.8M934.2 369.5V378.5M935.8 368.1V375.9M938.3 366.1V379.8M939.9 362.6V369.2M940.7 357.7V366.6M945.6 383.1V388.8M946.4 381.2V386.6M947.2 377.5V385.2M948.9 386.7V391.7M952.1 424.6V431.5M953.0 416.7V429.0M954.6 411.7V425.4M955.4 404.2V415.7M957.1 402.5V412.9M958.7 399.9V411.8M960.3 404.2V409.3M962.0 391.4V406.3M962.8 384.9V391.9M963.6 378.5V388.2M965.2 379.3V387.9M966.9 380.7V386.4M968.5 378.9V387.5M970.1 384.5V387.5M970.9 381.6V386.4M971.8 380.3V389.2M973.4 377.0V384.9M974.2 369.9V383.6M975.8 370.1V377.7M976.7 370.4V374.4M977.5 359.5V373.2M979.1 350.0V367.5M979.9 349.3V355.7M981.6 348.4V352.9M982.4 342.3V350.7M983.2 334.2V345.6M984.0 325.5V337.9M985.6 326.1V335.1" stroke="#089981" stroke-width="1.5" stroke-opacity="0.45" fill="none"/>
<path d="M413.0 353.5V360.0M443.8 470.0V485.5M474.0 450.0V461.7M485.7 340.0V354.0M492.3 335.0V348.0M489.8 296.0V310.0M516.8 262.0V274.5M532.4 222.0V238.4M544.2 213.5V226.0M554.0 213.5V225.0M582.3 280.0V291.4M625.9 272.0V280.5M633.2 243.8V262.0M643.5 250.5V258.0M647.9 268.0V277.5M657.9 257.7V266.0M675.0 276.0V282.0M728.0 244.5V252.0M739.0 232.0V246.0M745.0 214.0V218.0M766.8 262.0V268.0M782.5 228.0V236.0M784.4 227.0V240.5M788.4 228.0V233.0M803.5 256.0V260.2M828.4 242.0V253.6M835.6 325.5V353.4M839.2 350.0V387.0M847.0 335.0V350.5M849.2 322.5V330.0M852.2 330.0V341.0M859.5 333.0V344.6M866.0 320.0V332.0M869.3 389.0V415.0M874.4 310.0V386.6M880.0 297.0V312.0M901.4 392.0V407.0M909.4 388.0V396.0M928.8 402.0V415.2M938.0 370.0V378.5M941.4 356.5V362.0M951.3 420.0V432.0M957.9 404.0V419.0M967.0 377.0V384.0M976.2 364.5V372.0M985.6 326.0V335.5" stroke="#f23645" stroke-width="1.5" stroke-opacity="0.7" fill="none"/>
<path d="M385.8 402.5V416.0M397.6 405.5V412.0M432.0 385.0V397.5M435.7 364.0V380.0M379.2 440.0V453.6M446.8 397.0V425.0M461.4 470.0V485.5M468.0 414.0V425.0M500.8 274.5V296.0M503.0 296.0V309.8M511.1 229.0V245.0M521.7 176.7V200.0M523.5 195.0V238.0M527.3 176.0V195.0M538.7 192.0V202.0M542.7 232.0V245.8M547.5 242.0V251.6M559.6 265.0V276.0M563.2 228.0V238.0M585.3 260.5V270.0M587.0 270.0V290.0M590.9 249.5V258.0M596.3 282.0V304.0M605.8 300.0V318.6M622.0 245.0V255.0M629.5 253.5V270.0M662.6 295.0V308.4M680.2 300.0V309.8M691.2 276.8V290.0M695.6 276.8V284.0M719.0 280.0V286.5M720.6 263.5V272.0M729.4 250.0V263.0M753.6 245.0V253.5M755.0 224.0V236.0M760.2 256.0V267.5M794.2 227.6V233.0M822.9 236.0V246.0M826.5 236.7V246.0M832.8 223.5V230.0M839.6 385.0V394.6M855.8 338.0V348.3M863.9 311.5V322.0M868.3 298.4V315.0M869.6 305.0V389.5M875.7 287.3V355.0M884.9 330.0V341.7M890.3 352.0V360.8M903.8 395.0V421.0M905.0 391.0V402.0M914.9 411.0V419.0M921.2 381.4V390.0M934.4 365.0V383.0M945.4 385.0V398.3M947.6 377.0V386.0M963.0 376.3V385.0M972.6 386.0V391.7M981.5 350.0V364.5M988.0 319.3V327.0" stroke="#089981" stroke-width="1.5" stroke-opacity="0.7" fill="none"/>
<path d="M523.4 196.0V230.0M525.3 190.0V214.0M528.2 181.0V206.0M529.2 183.0V210.0M530.2 186.0V214.0M531.2 196.0V226.0M835.3 326.0V352.0M879.8 298.0V326.0" stroke="#f23645" stroke-width="1.7" stroke-opacity="0.8" fill="none"/>
<path d="M520.9 190.0V224.0M521.7 179.0V216.0M522.5 188.0V236.0M524.4 186.0V218.0M526.4 180.0V212.0M527.2 177.0V202.0M836.2 330.0V346.0M868.6 300.0V330.0M870.4 306.0V340.0M875.3 290.0V330.0M876.3 296.0V332.0" stroke="#089981" stroke-width="1.7" stroke-opacity="0.8" fill="none"/>
<path d="M377.7 416.7V421.0M381.0 435.5V444.4M382.6 433.8V436.5M384.2 432.4V442.6M385.9 409.9V424.8M387.5 422.0V424.5M390.8 425.8V434.2M394.0 437.0V437.8M395.7 435.5V446.3M397.3 410.5V423.4M403.8 415.1V431.5M407.1 393.4V397.3M408.7 393.2V397.0M410.4 385.1V387.7M416.9 365.8V368.9M418.6 369.6V376.5M423.5 369.0V369.9M425.1 370.8V373.6M428.4 379.0V381.8M431.6 388.3V391.2M433.3 382.2V391.5M434.9 379.9V380.7M436.5 372.8V373.6M444.7 463.4V478.1M446.3 419.3V446.5M452.9 451.7V460.0M457.8 466.3V467.8M459.4 468.9V469.7M461.0 477.1V482.9M462.7 461.4V478.0M464.3 444.3V453.8M465.9 441.7V448.6M467.6 425.8V428.2M475.7 449.8V453.6M477.4 430.9V431.7M479.0 413.9V417.5M480.6 394.0V400.6M482.3 356.9V382.2M483.9 336.8V343.1M485.5 340.1V341.7M490.4 313.8V321.0M493.7 326.3V328.3M495.3 309.2V318.7M497.0 299.3V304.7M505.2 280.3V293.0M506.8 271.6V280.7M508.4 260.1V269.2M510.1 248.4V269.4M519.9 236.2V254.6M521.5 183.2V213.3M523.1 190.6V192.3M524.8 199.0V203.6M532.9 219.8V233.4M534.6 207.7V221.6M536.2 200.5V221.5M537.8 190.2V212.5M549.3 235.9V237.6M560.7 258.7V272.5M562.3 240.4V257.8M564.0 237.3V238.1M565.6 240.9V243.7M567.2 239.3V241.1M568.9 245.1V245.9M583.6 269.9V282.3M585.2 265.7V269.6M588.5 276.8V280.4M590.1 256.9V263.9M599.9 284.9V285.7M606.5 292.5V305.8M608.1 285.8V292.4M609.7 287.3V295.6M611.4 292.5V293.3M616.3 273.9V286.8M617.9 269.8V273.2M619.5 251.1V265.9M621.2 251.8V257.1M627.7 268.8V274.0M629.3 268.2V271.2M632.6 260.2V264.3M634.2 256.3V265.2M640.8 268.4V271.5M642.4 260.8V262.7M648.9 262.0V277.9M652.2 258.0V258.8M653.8 266.0V266.8M655.5 262.6V271.9M657.1 262.1V270.1M662.0 293.5V294.6M663.7 295.3V299.0M665.3 292.6V296.7M670.2 283.8V292.8M675.1 275.1V281.0M681.6 300.6V306.3M683.3 295.2V300.5M686.5 300.3V302.1M689.8 293.0V298.1M691.4 284.3V289.6M693.1 278.4V281.0M702.9 283.0V284.4M709.4 295.0V299.8M711.0 288.3V296.7M712.7 279.7V286.8M719.2 278.0V281.6M720.8 272.3V273.1M725.7 253.0V259.6M727.4 252.3V253.1M730.6 248.1V256.2M733.9 246.1V250.1M735.5 245.5V247.3M737.2 237.2V238.0M738.8 235.3V239.2M740.4 229.4V235.1M742.1 219.1V223.7M743.7 222.4V224.2M745.4 220.2V221.0M750.3 240.0V241.8M753.5 246.1V250.9M755.2 234.9V242.0M761.7 254.4V261.4M768.2 255.8V263.3M769.9 253.0V255.0M771.5 253.8V255.0M773.1 251.7V255.8M774.8 247.0V248.9M776.4 247.1V248.5M779.7 234.1V238.1M781.3 232.3V233.1M782.9 232.4V236.7M784.6 234.1V235.2M791.1 231.9V234.4M802.5 253.0V253.8M807.4 244.6V250.4M809.1 246.2V251.2M810.7 242.5V245.2M812.3 239.2V240.6M814.0 239.5V241.1M815.6 238.7V239.5M818.9 243.8V246.4M822.1 246.0V247.3M827.1 240.7V244.3M828.7 242.0V247.6M830.3 234.6V241.7M832.0 231.1V236.7M834.5 326.4V333.0M841.0 355.9V358.6M842.7 342.9V352.1M844.3 326.4V341.4M845.9 331.5V332.3M847.6 336.4V337.2M857.4 320.8V330.5M863.9 315.1V321.5M867.2 315.6V318.4M868.8 306.8V314.1M873.7 312.1V317.4M875.4 298.3V312.0M878.6 315.0V327.9M880.3 306.7V312.4M885.2 327.5V328.3M886.8 342.5V343.4M891.7 345.2V359.0M893.3 351.1V351.9M896.6 365.1V366.3M899.9 377.6V379.4M903.1 401.1V403.4M904.8 399.1V405.1M906.4 400.8V403.8M908.0 400.8V401.6M916.2 411.9V412.8M917.8 393.1V407.0M921.1 387.6V400.0M929.3 400.4V405.7M930.9 386.6V396.9M934.2 369.5V374.4M935.8 370.1V374.4M940.7 359.2V362.6M945.6 385.1V387.3M947.2 381.4V383.2M948.9 386.7V387.7M952.1 425.1V431.0M955.4 407.2V412.7M957.1 406.5V412.4M958.7 401.4V409.9M960.3 404.2V407.8M962.0 391.9V404.8M963.6 378.5V387.8M965.2 383.1V387.4M966.9 381.2V385.4M968.5 381.8V386.5M970.1 386.4V387.2M971.8 383.2V385.4M973.4 379.8V384.9M976.7 370.4V373.9M979.9 350.2V352.8M981.6 349.8V352.4M983.2 335.1V343.7" stroke="#089981" stroke-width="2.2" stroke-opacity="0.72" fill="none"/>
<path d="M379.3 440.1V444.2M389.1 428.6V431.3M392.4 428.5V436.6M398.9 408.9V413.9M400.6 417.6V421.5M402.2 422.8V431.2M405.5 406.4V409.6M412.0 363.1V364.8M413.6 357.5V363.4M415.3 358.2V359.4M420.2 370.7V371.8M421.8 370.8V372.7M426.7 374.1V376.7M430.0 389.5V390.8M438.2 372.1V382.3M439.8 394.6V402.0M441.4 417.7V418.5M443.1 437.4V463.4M448.0 421.2V424.6M449.6 420.9V435.3M451.2 441.2V442.9M454.5 460.8V466.3M456.1 462.2V463.5M469.2 417.2V426.7M470.8 431.2V433.7M472.5 433.8V443.6M474.1 446.7V457.1M487.2 337.0V342.4M488.8 330.9V333.2M492.1 315.1V328.7M498.6 303.0V304.9M500.3 297.2V304.1M501.9 293.4V301.3M503.5 292.5V296.5M511.7 234.2V246.8M513.3 247.9V261.4M515.0 258.7V271.0M516.6 254.8V269.9M518.2 258.2V259.0M526.4 188.2V198.5M528.0 180.9V197.2M529.7 180.8V190.7M531.3 208.2V209.0M539.5 193.5V210.9M541.1 214.2V231.5M542.7 228.2V237.3M544.4 218.3V224.7M546.0 235.2V242.4M547.6 237.2V251.5M550.9 222.2V225.0M552.5 225.0V233.9M554.2 216.3V222.8M555.8 233.9V243.7M557.4 246.0V257.4M559.1 252.0V263.7M570.5 231.6V241.5M572.1 237.1V247.7M573.8 245.2V251.2M575.4 246.0V252.4M577.0 255.6V256.6M578.7 262.6V270.6M580.3 270.0V273.9M582.0 279.2V287.0M586.9 275.8V276.8M591.8 250.4V262.2M593.4 261.0V270.1M595.0 266.9V281.3M596.7 279.1V287.7M598.3 285.7V291.6M601.6 283.7V289.3M603.2 283.7V290.9M604.8 289.4V294.1M613.0 290.4V292.7M614.6 286.4V293.6M622.8 251.3V258.7M624.4 254.3V260.9M626.1 272.4V277.0M631.0 265.6V266.7M635.9 258.2V261.8M637.5 270.9V276.2M639.1 277.7V280.7M644.0 253.5V258.7M645.7 264.3V269.8M647.3 261.8V262.6M650.6 262.0V266.2M658.7 259.2V271.8M660.4 272.4V278.2M666.9 297.4V298.2M668.6 297.2V298.0M671.8 281.1V289.3M673.5 277.6V284.9M676.7 280.6V284.1M678.4 296.5V302.9M680.0 297.6V309.8M684.9 295.8V296.9M688.2 298.6V300.4M694.7 283.6V284.5M696.3 278.5V282.8M698.0 283.3V287.7M699.6 286.0V293.0M701.2 288.5V292.2M704.5 284.9V286.9M706.1 284.0V291.2M707.8 287.6V290.3M714.3 277.3V281.9M715.9 274.3V281.6M717.6 274.5V275.3M722.5 267.4V272.0M724.1 263.1V264.1M729.0 250.1V252.8M732.3 250.8V251.9M747.0 223.6V229.6M748.6 232.5V235.1M751.9 243.8V244.6M756.8 231.9V237.9M758.4 242.2V246.7M760.1 257.2V261.4M763.3 257.7V260.7M765.0 256.5V264.4M766.6 257.9V266.1M778.0 237.7V240.8M786.2 231.3V232.2M787.8 230.9V233.5M789.5 231.0V235.6M792.7 235.2V237.2M794.4 229.8V231.0M796.0 234.8V238.2M797.6 235.4V236.5M799.3 237.7V241.0M800.9 246.3V253.0M804.2 254.2V255.9M805.8 251.7V254.1M817.2 238.5V241.8M820.5 246.4V249.9M823.8 241.5V246.0M825.4 240.4V244.5M836.1 341.6V344.3M837.8 339.0V346.0M839.4 352.2V358.3M849.2 324.5V333.5M850.8 320.2V326.6M852.5 325.6V338.5M854.1 330.4V341.0M855.7 341.1V342.9M859.0 326.2V331.5M860.6 332.0V338.4M862.3 328.2V330.0M865.5 318.9V325.6M870.4 317.7V319.0M872.1 312.8V316.8M877.0 298.2V316.0M881.9 317.0V326.9M883.5 329.2V336.7M888.4 350.6V354.0M890.1 351.4V360.3M895.0 353.2V360.7M898.2 362.5V373.9M901.5 386.3V399.2M909.7 393.0V394.9M911.3 394.5V400.9M912.9 402.5V410.9M914.6 407.3V418.9M919.5 396.0V402.0M922.7 385.1V387.8M924.4 384.1V395.2M926.0 396.5V404.2M927.6 400.9V401.7M932.5 378.9V379.8M937.4 377.0V377.8M939.1 368.1V368.9M942.3 361.5V371.0M944.0 373.2V381.2M950.5 391.5V405.9M953.8 418.7V423.9M975.0 373.7V375.8M978.3 363.3V364.1M984.8 328.3V332.3M986.5 327.5V328.4" stroke="#f23645" stroke-width="2.2" stroke-opacity="0.72" fill="none"/>
<path d="M378.5 416.7V440.1M380.2 444.2V445.0M381.8 435.5V436.5M383.4 433.8V442.6M386.7 409.9V424.5M388.3 422.0V428.6M390.0 431.3V434.2M391.6 425.8V428.5M393.2 436.6V437.7M394.9 437.0V446.3M399.8 413.9V417.6M401.4 421.5V422.8M403.0 431.2V432.0M407.9 393.4V397.0M416.1 359.4V368.9M417.7 365.8V376.5M419.4 369.6V370.7M424.3 369.0V373.6M425.9 370.8V374.1M427.5 376.7V381.8M429.2 379.0V389.5M430.8 390.8V391.6M432.4 388.3V391.5M439.0 382.3V394.6M440.6 402.0V417.7M442.2 418.3V437.4M443.9 463.4V478.1M447.1 419.3V421.2M450.4 435.3V441.2M452.0 442.9V460.0M453.7 451.7V460.8M456.9 463.5V467.8M458.6 466.3V469.6M460.2 468.9V482.9M461.9 477.1V478.0M465.1 444.3V448.6M470.0 426.7V431.2M473.3 443.6V446.7M484.7 336.8V341.7M491.3 313.8V315.1M497.8 299.3V303.0M506.0 280.3V281.1M509.2 260.1V269.4M512.5 246.8V247.9M522.3 183.2V192.3M523.9 190.6V203.6M530.5 190.7V208.2M532.1 208.7V233.4M533.7 219.8V221.6M535.4 207.7V221.5M537.0 200.5V212.5M538.6 190.2V193.5M540.3 210.9V214.2M545.2 224.7V235.2M555.0 222.8V233.9M556.6 243.7V246.0M559.9 263.7V272.5M564.8 237.5V243.7M568.1 239.3V245.3M576.2 252.4V255.6M577.9 256.6V262.6M581.1 273.9V279.2M584.4 269.6V270.4M586.0 265.7V275.8M587.7 276.8V280.4M605.6 294.1V305.8M608.9 285.8V295.6M610.5 287.3V292.8M620.3 251.1V257.1M625.3 260.9V272.4M628.5 268.8V271.2M633.4 260.2V265.2M635.1 256.3V258.2M636.7 261.8V270.9M638.3 276.2V277.7M644.9 258.7V264.3M648.1 262.2V277.9M653.0 258.0V266.7M654.7 266.0V271.9M656.3 262.6V270.1M659.6 271.8V272.6M661.2 278.2V294.6M662.8 293.5V299.0M664.5 295.3V296.7M666.1 292.6V297.4M675.9 275.1V280.6M677.5 284.1V296.5M684.1 295.2V296.0M685.7 296.9V302.1M693.9 278.4V283.6M697.1 282.8V283.6M703.7 283.0V284.9M708.6 290.3V299.8M710.2 295.0V296.7M718.4 275.2V281.6M729.8 252.8V256.2M731.5 248.1V250.8M734.7 246.1V247.3M738.0 237.2V239.2M739.6 235.1V235.9M742.9 219.1V224.2M746.2 220.2V223.6M747.8 229.6V232.5M749.4 235.1V241.8M751.1 240.0V243.8M752.7 244.4V250.9M757.6 237.9V242.2M759.2 246.7V257.2M762.5 254.4V257.7M770.7 253.0V255.0M772.3 253.8V255.8M775.6 247.0V248.5M782.1 232.3V236.7M783.7 232.4V235.2M791.9 231.9V235.2M795.2 231.0V234.8M798.5 236.5V237.7M800.1 241.0V246.3M801.7 253.0V253.8M803.4 253.0V254.2M808.3 244.6V251.2M813.2 239.2V241.1M818.1 241.8V246.4M819.7 243.8V246.4M826.2 244.3V245.1M827.9 240.7V247.6M831.1 234.6V236.7M835.3 326.4V341.6M838.6 346.0V352.2M840.2 358.3V359.1M845.1 326.4V332.1M846.8 331.5V336.7M858.2 320.8V326.2M859.8 331.5V332.3M864.7 315.1V318.9M869.6 306.8V317.7M872.9 316.8V317.6M877.8 316.0V327.9M881.1 306.7V317.0M882.7 326.9V329.2M886.0 327.5V343.4M887.6 342.5V350.6M892.5 345.2V351.1M894.1 351.3V353.2M895.8 360.7V366.3M899.0 373.9V379.4M900.7 377.6V386.3M902.3 399.2V403.4M903.9 401.1V405.1M905.6 399.1V403.8M907.2 400.8V401.6M912.1 400.9V402.5M918.7 393.1V396.0M925.2 395.2V396.5M928.5 400.9V405.7M935.0 369.5V374.4M936.6 370.1V377.0M941.5 359.2V361.5M943.2 371.0V373.2M944.8 381.2V387.3M948.1 381.4V387.7M949.7 386.7V391.5M951.3 405.9V431.0M956.2 407.2V412.4M957.9 406.5V409.9M959.5 401.4V407.8M961.1 404.2V405.0M964.4 378.5V387.4M966.0 383.1V385.4M967.7 381.2V386.5M969.3 381.8V387.1M972.6 383.2V384.9M980.7 350.2V352.4M987.3 328.4V329.3" stroke="#f23645" stroke-width="2.2" stroke-opacity="0.72" fill="none"/>
<path d="M385.1 424.8V432.4M396.5 423.4V435.5M398.1 408.9V410.5M404.7 406.4V415.1M406.3 397.3V409.6M409.6 387.7V393.2M411.2 363.1V385.1M412.8 357.5V364.8M414.5 358.2V363.4M421.0 370.8V371.8M422.6 369.9V372.7M434.1 380.4V382.2M435.7 373.6V379.9M437.3 372.1V372.9M445.5 446.5V463.4M448.8 420.9V424.6M455.3 462.2V466.3M463.5 453.8V461.4M466.8 428.2V441.7M468.4 417.2V425.8M471.7 433.7V434.5M474.9 453.6V457.1M476.6 431.5V449.8M478.2 417.5V430.9M479.8 400.6V413.9M481.5 382.2V394.0M483.1 343.1V356.9M486.4 337.0V340.1M488.0 330.9V342.4M489.6 321.0V333.2M492.9 328.3V329.1M494.5 318.7V326.3M496.2 304.7V309.2M499.4 297.2V304.9M501.1 293.4V304.1M502.7 292.5V301.3M504.3 293.0V296.5M507.6 269.2V271.6M510.9 234.2V248.4M514.1 258.7V261.4M515.8 254.8V271.0M517.4 258.2V269.9M519.0 254.6V258.6M520.7 213.3V236.2M525.6 188.2V199.0M527.2 180.9V198.5M528.8 180.8V197.2M541.9 228.2V231.5M543.6 218.3V237.3M546.8 237.2V242.4M548.5 237.6V251.5M550.1 222.2V235.9M551.7 225.0V225.8M553.4 216.3V233.9M558.3 252.0V257.4M561.5 257.8V258.7M563.2 237.3V240.4M566.4 240.9V241.7M569.7 231.6V245.1M571.3 237.1V241.5M573.0 245.2V247.7M574.6 246.0V251.2M579.5 270.0V270.8M582.8 282.3V287.0M589.3 263.9V276.8M590.9 250.4V256.9M592.6 261.0V262.2M594.2 266.9V270.1M595.8 279.1V281.3M597.5 285.7V287.7M599.1 285.5V291.6M600.7 283.7V284.9M602.4 283.7V289.3M604.0 289.4V290.9M607.3 292.4V293.2M612.2 290.4V292.5M613.8 286.4V292.7M615.4 286.8V293.6M617.1 273.2V274.0M618.7 265.9V269.8M622.0 251.3V252.1M623.6 254.3V258.7M626.9 274.0V277.0M630.2 265.6V268.2M631.8 264.3V266.7M640.0 271.5V280.7M641.6 262.7V268.4M643.2 253.5V260.8M646.5 261.8V269.8M649.8 262.0V262.8M651.4 258.8V266.2M657.9 259.2V262.1M667.7 297.2V298.0M669.4 292.8V298.0M671.0 281.1V283.8M672.6 277.6V289.3M674.3 281.0V284.9M679.2 297.6V302.9M680.8 306.3V309.8M682.4 300.5V301.3M687.3 298.6V300.3M689.0 298.1V300.4M690.6 289.6V293.0M692.2 281.0V284.3M695.5 278.5V284.5M698.8 286.0V287.7M700.4 288.5V293.0M702.0 284.4V292.2M705.3 284.0V286.9M707.0 287.6V291.2M711.9 286.8V288.3M713.5 277.3V279.7M715.1 274.3V281.9M716.8 274.5V281.6M720.0 273.1V278.0M721.7 267.4V272.3M723.3 263.1V272.0M724.9 259.6V264.1M726.6 253.0V253.8M728.2 250.1V252.3M733.1 250.1V251.9M736.4 237.9V245.5M741.3 223.7V229.4M744.5 220.6V222.4M754.3 242.0V246.1M756.0 231.9V234.9M760.9 261.4V262.2M764.1 256.5V260.7M765.8 257.9V264.4M767.4 263.3V266.1M769.0 255.0V255.8M773.9 248.9V251.7M777.2 237.7V247.1M778.8 238.1V240.8M780.5 232.5V234.1M785.4 231.3V234.1M787.0 230.9V232.2M788.7 231.0V233.5M790.3 234.4V235.6M793.6 229.8V237.2M796.8 235.4V238.2M805.0 251.7V255.9M806.6 250.4V254.1M809.9 245.2V246.2M811.5 240.6V242.5M814.8 239.0V239.8M816.4 238.5V239.3M821.3 247.3V249.9M823.0 241.5V246.0M824.6 240.4V246.0M829.5 241.7V242.5M832.8 226.0V231.1M837.0 339.0V344.3M841.9 352.1V355.9M843.5 341.4V342.9M848.4 324.5V336.4M850.0 320.2V333.5M851.7 325.6V326.6M853.3 330.4V338.5M854.9 341.0V341.8M856.6 330.5V342.9M861.5 328.2V338.4M863.1 321.5V330.0M866.4 318.4V325.6M868.0 314.1V315.6M871.3 312.8V319.0M874.5 312.0V312.8M876.2 298.2V299.0M879.4 312.4V315.0M884.3 327.8V336.7M889.2 351.4V354.0M890.9 359.0V360.3M897.4 362.5V365.1M908.8 393.0V400.8M910.5 394.5V395.3M913.7 407.3V410.9M915.4 412.8V418.9M917.0 407.0V411.9M920.3 400.0V402.0M921.9 385.1V387.6M923.6 384.1V387.8M926.8 400.9V404.2M930.1 396.9V400.4M931.7 378.9V386.6M933.4 374.4V379.8M938.3 368.1V377.8M939.9 362.6V368.2M946.4 383.2V385.1M953.0 418.7V425.1M954.6 412.7V423.9M962.8 387.8V391.9M970.9 385.4V386.4M974.2 373.7V379.8M975.8 373.9V375.8M977.5 363.3V370.4M979.1 352.8V363.7M982.4 343.7V349.8M984.0 328.3V335.1M985.6 327.5V332.3" stroke="#089981" stroke-width="2.2" stroke-opacity="0.72" fill="none"/>
<path d="M378.5 416.7V440.1M380.2 444.2V445.0M381.8 435.5V436.5M383.4 433.8V442.6M386.7 409.9V424.5M388.3 422.0V428.6M390.0 431.3V434.2M391.6 425.8V428.5M393.2 436.6V437.7M394.9 437.0V446.3M399.8 413.9V417.6M401.4 421.5V422.8M403.0 431.2V432.0M407.9 393.4V397.0M416.1 359.4V368.9M417.7 365.8V376.5M419.4 369.6V370.7M424.3 369.0V373.6M425.9 370.8V374.1M427.5 376.7V381.8M429.2 379.0V389.5M430.8 390.8V391.6M432.4 388.3V391.5M439.0 382.3V394.6M440.6 402.0V417.7M442.2 418.3V437.4M443.9 463.4V478.1M447.1 419.3V421.2M450.4 435.3V441.2M452.0 442.9V460.0M453.7 451.7V460.8M456.9 463.5V467.8M458.6 466.3V469.6M460.2 468.9V482.9M461.9 477.1V478.0M465.1 444.3V448.6M470.0 426.7V431.2M473.3 443.6V446.7M484.7 336.8V341.7M491.3 313.8V315.1M497.8 299.3V303.0M506.0 280.3V281.1M509.2 260.1V269.4M512.5 246.8V247.9M522.3 183.2V192.3M523.9 190.6V203.6M530.5 190.7V208.2M532.1 208.7V233.4M533.7 219.8V221.6M535.4 207.7V221.5M537.0 200.5V212.5M538.6 190.2V193.5M540.3 210.9V214.2M545.2 224.7V235.2M555.0 222.8V233.9M556.6 243.7V246.0M559.9 263.7V272.5M564.8 237.5V243.7M568.1 239.3V245.3M576.2 252.4V255.6M577.9 256.6V262.6M581.1 273.9V279.2M584.4 269.6V270.4M586.0 265.7V275.8M587.7 276.8V280.4M605.6 294.1V305.8M608.9 285.8V295.6M610.5 287.3V292.8M620.3 251.1V257.1M625.3 260.9V272.4M628.5 268.8V271.2M633.4 260.2V265.2M635.1 256.3V258.2M636.7 261.8V270.9M638.3 276.2V277.7M644.9 258.7V264.3M648.1 262.2V277.9M653.0 258.0V266.7M654.7 266.0V271.9M656.3 262.6V270.1M659.6 271.8V272.6M661.2 278.2V294.6M662.8 293.5V299.0M664.5 295.3V296.7M666.1 292.6V297.4M675.9 275.1V280.6M677.5 284.1V296.5M684.1 295.2V296.0M685.7 296.9V302.1M693.9 278.4V283.6M697.1 282.8V283.6M703.7 283.0V284.9M708.6 290.3V299.8M710.2 295.0V296.7M718.4 275.2V281.6M729.8 252.8V256.2M731.5 248.1V250.8M734.7 246.1V247.3M738.0 237.2V239.2M739.6 235.1V235.9M742.9 219.1V224.2M746.2 220.2V223.6M747.8 229.6V232.5M749.4 235.1V241.8M751.1 240.0V243.8M752.7 244.4V250.9M757.6 237.9V242.2M759.2 246.7V257.2M762.5 254.4V257.7M770.7 253.0V255.0M772.3 253.8V255.8M775.6 247.0V248.5M782.1 232.3V236.7M783.7 232.4V235.2M791.9 231.9V235.2M795.2 231.0V234.8M798.5 236.5V237.7M800.1 241.0V246.3M801.7 253.0V253.8M803.4 253.0V254.2M808.3 244.6V251.2M813.2 239.2V241.1M818.1 241.8V246.4M819.7 243.8V246.4M826.2 244.3V245.1M827.9 240.7V247.6M831.1 234.6V236.7M835.3 326.4V341.6M838.6 346.0V352.2M840.2 358.3V359.1M845.1 326.4V332.1M846.8 331.5V336.7M858.2 320.8V326.2M859.8 331.5V332.3M864.7 315.1V318.9M869.6 306.8V317.7M872.9 316.8V317.6M877.8 316.0V327.9M881.1 306.7V317.0M882.7 326.9V329.2M886.0 327.5V343.4M887.6 342.5V350.6M892.5 345.2V351.1M894.1 351.3V353.2M895.8 360.7V366.3M899.0 373.9V379.4M900.7 377.6V386.3M902.3 399.2V403.4M903.9 401.1V405.1M905.6 399.1V403.8M907.2 400.8V401.6M912.1 400.9V402.5M918.7 393.1V396.0M925.2 395.2V396.5M928.5 400.9V405.7M935.0 369.5V374.4M936.6 370.1V377.0M941.5 359.2V361.5M943.2 371.0V373.2M944.8 381.2V387.3M948.1 381.4V387.7M949.7 386.7V391.5M951.3 405.9V431.0M956.2 407.2V412.4M957.9 406.5V409.9M959.5 401.4V407.8M961.1 404.2V405.0M964.4 378.5V387.4M966.0 383.1V385.4M967.7 381.2V386.5M969.3 381.8V387.1M972.6 383.2V384.9M980.7 350.2V352.4M987.3 328.4V329.3M379.3 440.1V444.2M389.1 428.6V431.3M392.4 428.5V436.6M398.9 408.9V413.9M400.6 417.6V421.5M402.2 422.8V431.2M405.5 406.4V409.6M412.0 363.1V364.8M413.6 357.5V363.4M415.3 358.2V359.4M420.2 370.7V371.8M421.8 370.8V372.7M426.7 374.1V376.7M430.0 389.5V390.8M438.2 372.1V382.3M439.8 394.6V402.0M441.4 417.7V418.5M443.1 437.4V463.4M448.0 421.2V424.6M449.6 420.9V435.3M451.2 441.2V442.9M454.5 460.8V466.3M456.1 462.2V463.5M469.2 417.2V426.7M470.8 431.2V433.7M472.5 433.8V443.6M474.1 446.7V457.1M487.2 337.0V342.4M488.8 330.9V333.2M492.1 315.1V328.7M498.6 303.0V304.9M500.3 297.2V304.1M501.9 293.4V301.3M503.5 292.5V296.5M511.7 234.2V246.8M513.3 247.9V261.4M515.0 258.7V271.0M516.6 254.8V269.9M518.2 258.2V259.0M526.4 188.2V198.5M528.0 180.9V197.2M529.7 180.8V190.7M531.3 208.2V209.0M539.5 193.5V210.9M541.1 214.2V231.5M542.7 228.2V237.3M544.4 218.3V224.7M546.0 235.2V242.4M547.6 237.2V251.5M550.9 222.2V225.0M552.5 225.0V233.9M554.2 216.3V222.8M555.8 233.9V243.7M557.4 246.0V257.4M559.1 252.0V263.7M570.5 231.6V241.5M572.1 237.1V247.7M573.8 245.2V251.2M575.4 246.0V252.4M577.0 255.6V256.6M578.7 262.6V270.6M580.3 270.0V273.9M582.0 279.2V287.0M586.9 275.8V276.8M591.8 250.4V262.2M593.4 261.0V270.1M595.0 266.9V281.3M596.7 279.1V287.7M598.3 285.7V291.6M601.6 283.7V289.3M603.2 283.7V290.9M604.8 289.4V294.1M613.0 290.4V292.7M614.6 286.4V293.6M622.8 251.3V258.7M624.4 254.3V260.9M626.1 272.4V277.0M631.0 265.6V266.7M635.9 258.2V261.8M637.5 270.9V276.2M639.1 277.7V280.7M644.0 253.5V258.7M645.7 264.3V269.8M647.3 261.8V262.6M650.6 262.0V266.2M658.7 259.2V271.8M660.4 272.4V278.2M666.9 297.4V298.2M668.6 297.2V298.0M671.8 281.1V289.3M673.5 277.6V284.9M676.7 280.6V284.1M678.4 296.5V302.9M680.0 297.6V309.8M684.9 295.8V296.9M688.2 298.6V300.4M694.7 283.6V284.5M696.3 278.5V282.8M698.0 283.3V287.7M699.6 286.0V293.0M701.2 288.5V292.2M704.5 284.9V286.9M706.1 284.0V291.2M707.8 287.6V290.3M714.3 277.3V281.9M715.9 274.3V281.6M717.6 274.5V275.3M722.5 267.4V272.0M724.1 263.1V264.1M729.0 250.1V252.8M732.3 250.8V251.9M747.0 223.6V229.6M748.6 232.5V235.1M751.9 243.8V244.6M756.8 231.9V237.9M758.4 242.2V246.7M760.1 257.2V261.4M763.3 257.7V260.7M765.0 256.5V264.4M766.6 257.9V266.1M778.0 237.7V240.8M786.2 231.3V232.2M787.8 230.9V233.5M789.5 231.0V235.6M792.7 235.2V237.2M794.4 229.8V231.0M796.0 234.8V238.2M797.6 235.4V236.5M799.3 237.7V241.0M800.9 246.3V253.0M804.2 254.2V255.9M805.8 251.7V254.1M817.2 238.5V241.8M820.5 246.4V249.9M823.8 241.5V246.0M825.4 240.4V244.5M836.1 341.6V344.3M837.8 339.0V346.0M839.4 352.2V358.3M849.2 324.5V333.5M850.8 320.2V326.6M852.5 325.6V338.5M854.1 330.4V341.0M855.7 341.1V342.9M859.0 326.2V331.5M860.6 332.0V338.4M862.3 328.2V330.0M865.5 318.9V325.6M870.4 317.7V319.0M872.1 312.8V316.8M877.0 298.2V316.0M881.9 317.0V326.9M883.5 329.2V336.7M888.4 350.6V354.0M890.1 351.4V360.3M895.0 353.2V360.7M898.2 362.5V373.9M901.5 386.3V399.2M909.7 393.0V394.9M911.3 394.5V400.9M912.9 402.5V410.9M914.6 407.3V418.9M919.5 396.0V402.0M922.7 385.1V387.8M924.4 384.1V395.2M926.0 396.5V404.2M927.6 400.9V401.7M932.5 378.9V379.8M937.4 377.0V377.8M939.1 368.1V368.9M942.3 361.5V371.0M944.0 373.2V381.2M950.5 391.5V405.9M953.8 418.7V423.9M975.0 373.7V375.8M978.3 363.3V364.1M984.8 328.3V332.3M986.5 327.5V328.4" stroke="#f23645" stroke-width="2" stroke-opacity="0.22" fill="none" style="mix-blend-mode:multiply"/>
<path d="M385.1 424.8V432.4M396.5 423.4V435.5M398.1 408.9V410.5M404.7 406.4V415.1M406.3 397.3V409.6M409.6 387.7V393.2M411.2 363.1V385.1M412.8 357.5V364.8M414.5 358.2V363.4M421.0 370.8V371.8M422.6 369.9V372.7M434.1 380.4V382.2M435.7 373.6V379.9M437.3 372.1V372.9M445.5 446.5V463.4M448.8 420.9V424.6M455.3 462.2V466.3M463.5 453.8V461.4M466.8 428.2V441.7M468.4 417.2V425.8M471.7 433.7V434.5M474.9 453.6V457.1M476.6 431.5V449.8M478.2 417.5V430.9M479.8 400.6V413.9M481.5 382.2V394.0M483.1 343.1V356.9M486.4 337.0V340.1M488.0 330.9V342.4M489.6 321.0V333.2M492.9 328.3V329.1M494.5 318.7V326.3M496.2 304.7V309.2M499.4 297.2V304.9M501.1 293.4V304.1M502.7 292.5V301.3M504.3 293.0V296.5M507.6 269.2V271.6M510.9 234.2V248.4M514.1 258.7V261.4M515.8 254.8V271.0M517.4 258.2V269.9M519.0 254.6V258.6M520.7 213.3V236.2M525.6 188.2V199.0M527.2 180.9V198.5M528.8 180.8V197.2M541.9 228.2V231.5M543.6 218.3V237.3M546.8 237.2V242.4M548.5 237.6V251.5M550.1 222.2V235.9M551.7 225.0V225.8M553.4 216.3V233.9M558.3 252.0V257.4M561.5 257.8V258.7M563.2 237.3V240.4M566.4 240.9V241.7M569.7 231.6V245.1M571.3 237.1V241.5M573.0 245.2V247.7M574.6 246.0V251.2M579.5 270.0V270.8M582.8 282.3V287.0M589.3 263.9V276.8M590.9 250.4V256.9M592.6 261.0V262.2M594.2 266.9V270.1M595.8 279.1V281.3M597.5 285.7V287.7M599.1 285.5V291.6M600.7 283.7V284.9M602.4 283.7V289.3M604.0 289.4V290.9M607.3 292.4V293.2M612.2 290.4V292.5M613.8 286.4V292.7M615.4 286.8V293.6M617.1 273.2V274.0M618.7 265.9V269.8M622.0 251.3V252.1M623.6 254.3V258.7M626.9 274.0V277.0M630.2 265.6V268.2M631.8 264.3V266.7M640.0 271.5V280.7M641.6 262.7V268.4M643.2 253.5V260.8M646.5 261.8V269.8M649.8 262.0V262.8M651.4 258.8V266.2M657.9 259.2V262.1M667.7 297.2V298.0M669.4 292.8V298.0M671.0 281.1V283.8M672.6 277.6V289.3M674.3 281.0V284.9M679.2 297.6V302.9M680.8 306.3V309.8M682.4 300.5V301.3M687.3 298.6V300.3M689.0 298.1V300.4M690.6 289.6V293.0M692.2 281.0V284.3M695.5 278.5V284.5M698.8 286.0V287.7M700.4 288.5V293.0M702.0 284.4V292.2M705.3 284.0V286.9M707.0 287.6V291.2M711.9 286.8V288.3M713.5 277.3V279.7M715.1 274.3V281.9M716.8 274.5V281.6M720.0 273.1V278.0M721.7 267.4V272.3M723.3 263.1V272.0M724.9 259.6V264.1M726.6 253.0V253.8M728.2 250.1V252.3M733.1 250.1V251.9M736.4 237.9V245.5M741.3 223.7V229.4M744.5 220.6V222.4M754.3 242.0V246.1M756.0 231.9V234.9M760.9 261.4V262.2M764.1 256.5V260.7M765.8 257.9V264.4M767.4 263.3V266.1M769.0 255.0V255.8M773.9 248.9V251.7M777.2 237.7V247.1M778.8 238.1V240.8M780.5 232.5V234.1M785.4 231.3V234.1M787.0 230.9V232.2M788.7 231.0V233.5M790.3 234.4V235.6M793.6 229.8V237.2M796.8 235.4V238.2M805.0 251.7V255.9M806.6 250.4V254.1M809.9 245.2V246.2M811.5 240.6V242.5M814.8 239.0V239.8M816.4 238.5V239.3M821.3 247.3V249.9M823.0 241.5V246.0M824.6 240.4V246.0M829.5 241.7V242.5M832.8 226.0V231.1M837.0 339.0V344.3M841.9 352.1V355.9M843.5 341.4V342.9M848.4 324.5V336.4M850.0 320.2V333.5M851.7 325.6V326.6M853.3 330.4V338.5M854.9 341.0V341.8M856.6 330.5V342.9M861.5 328.2V338.4M863.1 321.5V330.0M866.4 318.4V325.6M868.0 314.1V315.6M871.3 312.8V319.0M874.5 312.0V312.8M876.2 298.2V299.0M879.4 312.4V315.0M884.3 327.8V336.7M889.2 351.4V354.0M890.9 359.0V360.3M897.4 362.5V365.1M908.8 393.0V400.8M910.5 394.5V395.3M913.7 407.3V410.9M915.4 412.8V418.9M917.0 407.0V411.9M920.3 400.0V402.0M921.9 385.1V387.6M923.6 384.1V387.8M926.8 400.9V404.2M930.1 396.9V400.4M931.7 378.9V386.6M933.4 374.4V379.8M938.3 368.1V377.8M939.9 362.6V368.2M946.4 383.2V385.1M953.0 418.7V425.1M954.6 412.7V423.9M962.8 387.8V391.9M970.9 385.4V386.4M974.2 373.7V379.8M975.8 373.9V375.8M977.5 363.3V370.4M979.1 352.8V363.7M982.4 343.7V349.8M984.0 328.3V335.1M985.6 327.5V332.3M377.7 416.7V421.0M381.0 435.5V444.4M382.6 433.8V436.5M384.2 432.4V442.6M385.9 409.9V424.8M387.5 422.0V424.5M390.8 425.8V434.2M394.0 437.0V437.8M395.7 435.5V446.3M397.3 410.5V423.4M403.8 415.1V431.5M407.1 393.4V397.3M408.7 393.2V397.0M410.4 385.1V387.7M416.9 365.8V368.9M418.6 369.6V376.5M423.5 369.0V369.9M425.1 370.8V373.6M428.4 379.0V381.8M431.6 388.3V391.2M433.3 382.2V391.5M434.9 379.9V380.7M436.5 372.8V373.6M444.7 463.4V478.1M446.3 419.3V446.5M452.9 451.7V460.0M457.8 466.3V467.8M459.4 468.9V469.7M461.0 477.1V482.9M462.7 461.4V478.0M464.3 444.3V453.8M465.9 441.7V448.6M467.6 425.8V428.2M475.7 449.8V453.6M477.4 430.9V431.7M479.0 413.9V417.5M480.6 394.0V400.6M482.3 356.9V382.2M483.9 336.8V343.1M485.5 340.1V341.7M490.4 313.8V321.0M493.7 326.3V328.3M495.3 309.2V318.7M497.0 299.3V304.7M505.2 280.3V293.0M506.8 271.6V280.7M508.4 260.1V269.2M510.1 248.4V269.4M519.9 236.2V254.6M521.5 183.2V213.3M523.1 190.6V192.3M524.8 199.0V203.6M532.9 219.8V233.4M534.6 207.7V221.6M536.2 200.5V221.5M537.8 190.2V212.5M549.3 235.9V237.6M560.7 258.7V272.5M562.3 240.4V257.8M564.0 237.3V238.1M565.6 240.9V243.7M567.2 239.3V241.1M568.9 245.1V245.9M583.6 269.9V282.3M585.2 265.7V269.6M588.5 276.8V280.4M590.1 256.9V263.9M599.9 284.9V285.7M606.5 292.5V305.8M608.1 285.8V292.4M609.7 287.3V295.6M611.4 292.5V293.3M616.3 273.9V286.8M617.9 269.8V273.2M619.5 251.1V265.9M621.2 251.8V257.1M627.7 268.8V274.0M629.3 268.2V271.2M632.6 260.2V264.3M634.2 256.3V265.2M640.8 268.4V271.5M642.4 260.8V262.7M648.9 262.0V277.9M652.2 258.0V258.8M653.8 266.0V266.8M655.5 262.6V271.9M657.1 262.1V270.1M662.0 293.5V294.6M663.7 295.3V299.0M665.3 292.6V296.7M670.2 283.8V292.8M675.1 275.1V281.0M681.6 300.6V306.3M683.3 295.2V300.5M686.5 300.3V302.1M689.8 293.0V298.1M691.4 284.3V289.6M693.1 278.4V281.0M702.9 283.0V284.4M709.4 295.0V299.8M711.0 288.3V296.7M712.7 279.7V286.8M719.2 278.0V281.6M720.8 272.3V273.1M725.7 253.0V259.6M727.4 252.3V253.1M730.6 248.1V256.2M733.9 246.1V250.1M735.5 245.5V247.3M737.2 237.2V238.0M738.8 235.3V239.2M740.4 229.4V235.1M742.1 219.1V223.7M743.7 222.4V224.2M745.4 220.2V221.0M750.3 240.0V241.8M753.5 246.1V250.9M755.2 234.9V242.0M761.7 254.4V261.4M768.2 255.8V263.3M769.9 253.0V255.0M771.5 253.8V255.0M773.1 251.7V255.8M774.8 247.0V248.9M776.4 247.1V248.5M779.7 234.1V238.1M781.3 232.3V233.1M782.9 232.4V236.7M784.6 234.1V235.2M791.1 231.9V234.4M802.5 253.0V253.8M807.4 244.6V250.4M809.1 246.2V251.2M810.7 242.5V245.2M812.3 239.2V240.6M814.0 239.5V241.1M815.6 238.7V239.5M818.9 243.8V246.4M822.1 246.0V247.3M827.1 240.7V244.3M828.7 242.0V247.6M830.3 234.6V241.7M832.0 231.1V236.7M834.5 326.4V333.0M841.0 355.9V358.6M842.7 342.9V352.1M844.3 326.4V341.4M845.9 331.5V332.3M847.6 336.4V337.2M857.4 320.8V330.5M863.9 315.1V321.5M867.2 315.6V318.4M868.8 306.8V314.1M873.7 312.1V317.4M875.4 298.3V312.0M878.6 315.0V327.9M880.3 306.7V312.4M885.2 327.5V328.3M886.8 342.5V343.4M891.7 345.2V359.0M893.3 351.1V351.9M896.6 365.1V366.3M899.9 377.6V379.4M903.1 401.1V403.4M904.8 399.1V405.1M906.4 400.8V403.8M908.0 400.8V401.6M916.2 411.9V412.8M917.8 393.1V407.0M921.1 387.6V400.0M929.3 400.4V405.7M930.9 386.6V396.9M934.2 369.5V374.4M935.8 370.1V374.4M940.7 359.2V362.6M945.6 385.1V387.3M947.2 381.4V383.2M948.9 386.7V387.7M952.1 425.1V431.0M955.4 407.2V412.7M957.1 406.5V412.4M958.7 401.4V409.9M960.3 404.2V407.8M962.0 391.9V404.8M963.6 378.5V387.8M965.2 383.1V387.4M966.9 381.2V385.4M968.5 381.8V386.5M970.1 386.4V387.2M971.8 383.2V385.4M973.4 379.8V384.9M976.7 370.4V373.9M979.9 350.2V352.8M981.6 349.8V352.4M983.2 335.1V343.7" stroke="#089981" stroke-width="2" stroke-opacity="0.22" fill="none" style="mix-blend-mode:multiply"/>

  <!-- labels -->
  <rect x="998.4" y="315" width="82.4" height="19" rx="2.2" fill="#089981"/>
  <rect x="998.4" y="500.9" width="22.5" height="19" rx="2.2" fill="#26a69a"/>
  <!-- toolbar icons -->
  <g fill="none" stroke="#1c1c20" stroke-width="1.4" stroke-linecap="round" stroke-linejoin="round">
    <circle cx="395.3" cy="102.1" r="6.05" stroke-width="1.8"/>
    <path d="M399.8 106.6 L404 110.5" stroke-width="1.8"/>
    <circle cx="510.9" cy="103.4" r="10.2" stroke-width="1.2"/>
    <path d="M505.8 103.4H516M510.9 98.3V108.5" stroke-width="1.2"/>
    <path d="M668.6 101.5 L672.9 105 L677.3 101.5" stroke-width="1.5" stroke="#333"/>
    <path d="M834 101.5 L838.4 105 L842.9 101.5" stroke-width="1.5" stroke="#333"/>
    <!-- bars -->
    <path d="M713.9 95.6V112.4M709.8 110.4H713.9M713.9 97.8H717.4M722.7 94.2V111.9M722.7 108.3H727M719.1 102.2H722.7" stroke-width="1.5" stroke-linecap="butt" stroke="#333"/>
    <!-- candles -->
    <path d="M756.6 92.4V95.6M756.6 110V113.9M765.9 95.6V98.9M765.9 107.7V110.4" stroke-width="1.3" stroke-linecap="butt"/>
    <rect x="754.2" y="95.8" width="4.9" height="14" rx="1.3" stroke-width="1.4"/>
    <rect x="763.6" y="99.1" width="4.6" height="8.5" rx="1.3" stroke-width="1.4"/>
    <!-- area -->
    <path d="M790 106.7 L799.7 98.1 L805.7 103.5 L815.9 93.5" stroke-width="1.4" stroke="#3a3a3a"/>
    <!-- indicators -->
    <path d="M874.9 100.2 L880.2 94.9 L885.7 98.5 L893.3 93.2" stroke-width="1.3"/>
    <path d="M875 112.3V108.6H879.8V112.3M879.8 108.6V105.3H884.7V112.3M884.7 108.2H889.4M889.4 112.3V101.7H893.8V112.3M874.4 112.3H894.4" stroke-width="1.3"/>
    <!-- settings hexagon -->
    <path d="M1038.4 529.7 H1046 L1049.9 536.4 L1046 543.1 H1038.4 L1034.5 536.4 Z" stroke-width="1.5"/>
    <circle cx="1042.2" cy="536.4" r="2.3" stroke-width="1.4"/>
    <!-- collapse btn chevron -->
    <path d="M399.8 222.6 L403.6 218.8 L407.4 222.6" stroke-width="1.5"/>
  </g>
  <path d="M789.8 111.9 L799.7 101.9 L805.7 106.8 L816 97.4 V111.9 Z" fill="#8c8c8c" stroke="none"/>
  <rect x="388.2" y="209.2" width="31" height="23" rx="3" fill="none" stroke="#e2e3e5" stroke-width="1.2"/>
  <!-- gold symbol icon -->
  <circle cx="397.5" cy="143.8" r="10.3" fill="#d89b0b"/>
  <g fill="#fff">
    <path d="M393.9 142.4 l1.5-2.9 q.3-.6 1-.6 h2.4 q.7 0 1 .6 l1.5 2.9z"/>
    <path d="M389.9 147.2 l1.4-2.9 q.3-.6 1-.6 h2.4 q.7 0 1 .6 l1.7 2.9z"/>
    <path d="M397.7 147.2 l1.6-2.9 q.3-.6 1-.6 h2.4 q.7 0 1 .6 l1.5 2.9z"/>
  </g>
  <!-- status pill -->
  <path d="M713.1 133.7H725.8V153.5H713.1A9.9 9.9 0 0 1 713.1 133.7Z" fill="#dff0ec"/>
  <path d="M725.8 133.7H738.4A9.9 9.9 0 0 1 738.4 153.5H725.8Z" fill="#fde3ec"/>
  <circle cx="715.3" cy="143.8" r="4.5" fill="#056656"/>
  <g fill="none" stroke="#c2185b" stroke-width="1.5" stroke-linecap="round">
    <path d="M731.4 141.8c1.8-1.7 3.2-1 4.4-.2s2.6 1.3 4.2-.3"/>
    <path d="M731.4 146.4c1.8-1.7 3.2-1 4.4-.2s2.6 1.3 4.2-.3"/>
  </g>
</svg>
<svg width="1096" height="681" viewBox="0 0 1096 681" role="img" aria-label="KITCO" text-rendering="geometricPrecision">
  <text x="444.6" y="473.9" font-family="Liberation Sans, sans-serif" font-weight="700" font-size="27.9" textLength="89.5" lengthAdjust="spacingAndGlyphs" fill="#000">KITCO</text>
  <text x="534.6" y="458.6" font-family="Liberation Sans, sans-serif" font-size="7.5" fill="#555">®</text>
</svg>

<nav aria-label="Chart toolbar">
  <div class="clip" style="left:405px;top:90px;width:69.8px;height:28px"><span class="t" style="left:7px;top:5.6px;font-size:15.6px;font-weight:700;color:#1b1b1f;letter-spacing:0.1px">XAUUSD</span></div>
  <span class="t k" id="t-tf1" style="left:550.95px;top:97px;font-size:15.4px;letter-spacing:1.155px;color:#1b1b1f;">1m</span>
  <span class="t k" id="t-tf2" style="left:587.50px;top:97px;font-size:15.4px;letter-spacing:1.155px;color:#1b1b1f;">30m</span>
  <span class="t k" id="t-tf3" style="left:634.17px;top:97px;font-size:15.4px;letter-spacing:1.155px;color:#1b1b1f;">1h</span>
  <span class="t k" id="t-ind" style="left:902.80px;top:97px;font-size:15.6px;letter-spacing:0.589px;color:#1b1b1f;">Indicators</span>
</nav>
<div aria-label="Legend">
  <span class="t k" id="t-name" style="left:411.50px;top:135px;font-size:18px;letter-spacing:-0.182px;color:#1b1b1f;">Gold Spot / U.S. Dollar · 1 · OANDA</span>
  <span class="t k" id="t-o" style="left:386.85px;top:162px;font-size:14.8px;color:#1b1b1f;">O</span><span class="t k" id="t-ov" style="left:399.45px;top:162px;font-size:14.8px;letter-spacing:0.700px;color:#089981;">4,640.935</span><span class="t k" id="t-h" style="left:477.75px;top:162px;font-size:14.8px;color:#1b1b1f;">H</span><span class="t k" id="t-hv" style="left:490.25px;top:162px;font-size:14.8px;letter-spacing:0.787px;color:#089981;">4,640.935</span><span class="t k" id="t-lw" style="left:569.25px;top:162px;font-size:14.8px;color:#1b1b1f;">L</span><span class="t k" id="t-lv" style="left:579.05px;top:162px;font-size:14.8px;letter-spacing:0.738px;color:#089981;">4,640.935</span><span class="t k" id="t-cl" style="left:657.95px;top:162px;font-size:14.8px;color:#1b1b1f;">C</span><span class="t k" id="t-cv" style="left:669.55px;top:162px;font-size:14.8px;letter-spacing:0.825px;color:#089981;">4,640.935</span><span class="t k" id="t-d1" style="left:748.85px;top:162px;font-size:14.8px;letter-spacing:0.890px;color:#089981;">+0.005</span><span class="t k" id="t-d2" style="left:803.10px;top:162px;font-size:14.8px;letter-spacing:0.643px;color:#089981;">(+0.00%)</span>
  <span class="t k" id="t-vol" style="left:387.35px;top:185px;font-size:14.6px;letter-spacing:0.345px;color:#1b1b1f;">Vol · Ticks</span><span class="t k" id="t-volv" style="left:466.90px;top:185px;font-size:14.6px;color:#089981;">1</span>
</div>
<div aria-label="Price axis">
  <span class="t k" id="t-ax0" style="left:1006.95px;top:158px;font-size:13.9px;letter-spacing:0.725px;color:#1b1b1f;">4,700.000</span>
<span class="t k" id="t-ax1" style="left:1006.95px;top:212px;font-size:13.9px;letter-spacing:0.725px;color:#1b1b1f;">4,680.000</span>
<span class="t k" id="t-ax2" style="left:1006.95px;top:266px;font-size:13.9px;letter-spacing:0.725px;color:#1b1b1f;">4,660.000</span>
<span class="t k" id="t-ax3" style="left:1006.95px;top:374px;font-size:13.9px;letter-spacing:0.725px;color:#1b1b1f;">4,620.000</span>
<span class="t k" id="t-ax4" style="left:1006.95px;top:428px;font-size:13.9px;letter-spacing:0.725px;color:#1b1b1f;">4,600.000</span>
<span class="t k" id="t-ax5" style="left:1006.95px;top:482px;font-size:13.9px;letter-spacing:0.725px;color:#1b1b1f;">4,580.000</span>
  <span class="t" id="t-plab" style="left:1006.55px;top:318px;font-size:13.9px;letter-spacing:0.713px;color:#fff;">4,640.935</span>
  <span class="t" id="t-vlab" style="left:1006.60px;top:503px;font-size:13.9px;color:#fff;">1</span>
</div>
<div aria-label="Time axis">
  <span class="t k" id="t-tm0" style="left:422.95px;top:530px;font-size:13.9px;letter-spacing:0.938px;color:#1b1b1f;">09:00</span>
<span class="t k" id="t-tm1" style="left:570.10px;top:530px;font-size:13.9px;letter-spacing:0.938px;color:#1b1b1f;">12:00</span>
<span class="t k" id="t-tm2" style="left:716.80px;top:530px;font-size:13.9px;letter-spacing:0.938px;color:#1b1b1f;">15:00</span>
<span class="t k" id="t-tm3" style="left:829.80px;top:530px;font-size:13.9px;font-weight:700;color:#1b1b1f;">5</span>
<span class="t k" id="t-tm4" style="left:958.35px;top:530px;font-size:13.9px;letter-spacing:0.875px;color:#1b1b1f;">21:00</span>
</div>
<nav aria-label="Ranges">
  <span class="t k" id="t-rg0" style="left:393.41px;top:568px;font-size:15.7px;letter-spacing:1.177px;color:#1b1b1f;">1D</span>
<span class="t k" id="t-rg1" style="left:427.81px;top:568px;font-size:15.7px;letter-spacing:1.177px;color:#1b1b1f;">5D</span>
<span class="t k" id="t-rg2" style="left:463.04px;top:568px;font-size:15.7px;letter-spacing:1.177px;color:#1b1b1f;">1M</span>
<span class="t k" id="t-rg3" style="left:500.21px;top:568px;font-size:15.7px;letter-spacing:1.177px;color:#1b1b1f;">3M</span>
<span class="t k" id="t-rg4" style="left:536.39px;top:568px;font-size:15.7px;letter-spacing:1.177px;color:#1b1b1f;">6M</span>
<span class="t k" id="t-rg5" style="left:573.10px;top:568px;font-size:15.7px;letter-spacing:0.075px;color:#1b1b1f;">YTD</span>
<span class="t k" id="t-rg6" style="left:617.95px;top:568px;font-size:15.7px;letter-spacing:0.700px;color:#1b1b1f;">1Y</span>
<span class="t k" id="t-rg7" style="left:651.45px;top:568px;font-size:15.7px;letter-spacing:0.300px;color:#1b1b1f;">5Y</span>
<span class="t k" id="t-rg8" style="left:685.70px;top:568px;font-size:15.7px;letter-spacing:0.500px;color:#1b1b1f;">All</span>
  <span class="t k" id="t-clock" style="left:953.25px;top:567px;font-size:15.7px;letter-spacing:0.700px;color:#1b1b1f;">21:14:01 UTC-4</span>
</nav>
<footer>
  <span class="t" id="t-cr1" style="left:875.40px;top:608px;font-size:15px;letter-spacing:-0.050px;color:#4f7df3;">XAUUSD Chart</span>
  <span class="t" id="t-cr2" style="left:981.55px;top:608px;font-size:15px;letter-spacing:0.058px;color:#a9a9a9;">By TradingView</span>
</footer>
<div class="clip" style="left:370px;top:660px;width:400px;height:17.3px"><h2 class="t" style="left:7px;top:14.2px;font-size:19.8px;font-weight:700;color:#3c3c3c;letter-spacing:0.16px">Sponsored Financial Content</h2></div>
</div>
</body>
</html>
